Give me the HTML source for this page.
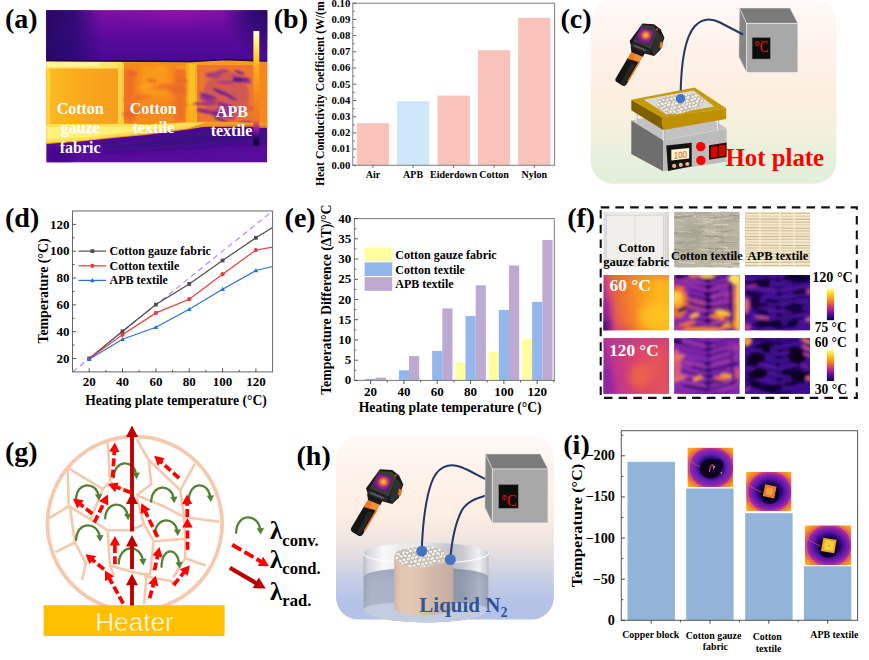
<!DOCTYPE html>
<html><head><meta charset="utf-8"><title>Figure</title>
<style>
html,body{margin:0;padding:0;background:#fff;}
body{width:869px;height:660px;overflow:hidden;font-family:"Liberation Serif",serif;}
svg{display:block;}
</style></head>
<body>
<svg width="869" height="660" viewBox="0 0 869 660">
<defs>
<filter id="b1" x="-20%" y="-20%" width="140%" height="140%"><feGaussianBlur stdDeviation="1"/></filter>
<filter id="b2" x="-20%" y="-20%" width="140%" height="140%"><feGaussianBlur stdDeviation="2"/></filter>
<filter id="b3" x="-30%" y="-30%" width="160%" height="160%"><feGaussianBlur stdDeviation="3.5"/></filter>
<filter id="b05" x="-20%" y="-20%" width="140%" height="140%"><feGaussianBlur stdDeviation="0.5"/></filter>
<filter id="b6" x="-50%" y="-50%" width="200%" height="200%"><feGaussianBlur stdDeviation="6"/></filter>
<clipPath id="cpa"><rect x="46.2" y="10.3" width="221.1" height="152.3"/></clipPath>
<linearGradient id="ga_bg" x1="0" y1="0" x2="0" y2="1"><stop offset="0" stop-color="#6a0c9e"/><stop offset="0.33" stop-color="#4b0a96"/><stop offset="0.8" stop-color="#520b98"/><stop offset="1" stop-color="#5a0c9c"/></linearGradient>
<linearGradient id="ga_cb" x1="0" y1="0" x2="0" y2="1"><stop offset="0" stop-color="#ffffd8"/><stop offset="0.1" stop-color="#fff27a"/><stop offset="0.22" stop-color="#ffd42a"/><stop offset="0.32" stop-color="#fbab1c"/><stop offset="0.55" stop-color="#f58a1e"/><stop offset="0.78" stop-color="#ee7424"/><stop offset="0.84" stop-color="#b02a86"/><stop offset="0.9" stop-color="#5a0c98"/><stop offset="0.95" stop-color="#1a0848"/><stop offset="1" stop-color="#0c062c"/></linearGradient>
<linearGradient id="ga_band" x1="0" y1="0" x2="1" y2="0"><stop offset="0" stop-color="#ffe260"/><stop offset="0.3" stop-color="#ffd22c"/><stop offset="0.5" stop-color="#f9a01c"/><stop offset="1" stop-color="#f68c1e"/></linearGradient>
<linearGradient id="ga_gz" x1="0" y1="0" x2="1" y2="0"><stop offset="0" stop-color="#fcba24"/><stop offset="0.5" stop-color="#f9a81a"/><stop offset="1" stop-color="#f79e1a"/></linearGradient>
<linearGradient id="ga_sky" x1="0" y1="0" x2="0" y2="1"><stop offset="0" stop-color="#8210a6"/><stop offset="0.3" stop-color="#6a0ca0"/><stop offset="0.6" stop-color="#570a9a"/><stop offset="1" stop-color="#490993"/></linearGradient>
<linearGradient id="ga_skl" x1="0" y1="0" x2="1" y2="0"><stop offset="0" stop-color="#280868" stop-opacity="1"/><stop offset="0.5" stop-color="#2c0a74" stop-opacity="0.92"/><stop offset="1" stop-color="#2c0a74" stop-opacity="0"/></linearGradient>
<radialGradient id="ga_skr" cx="1" cy="0" r="1"><stop offset="0" stop-color="#260868" stop-opacity="1"/><stop offset="0.45" stop-color="#2c0a74" stop-opacity="0.85"/><stop offset="1" stop-color="#2c0a74" stop-opacity="0"/></radialGradient>
<radialGradient id="ga_skm" cx="0.5" cy="0" r="0.5"><stop offset="0" stop-color="#9214aa" stop-opacity="0.9"/><stop offset="1" stop-color="#8210a6" stop-opacity="0"/></radialGradient>
<linearGradient id="gc_bg" x1="0" y1="0" x2="0" y2="1"><stop offset="0" stop-color="#fffaf8"/><stop offset="0.25" stop-color="#fef3ec"/><stop offset="0.5" stop-color="#fdeee0"/><stop offset="0.68" stop-color="#f6f0de"/><stop offset="0.85" stop-color="#e7f0dc"/><stop offset="1" stop-color="#e2efda"/></linearGradient>
<radialGradient id="gcam_scr" cx="0.55" cy="0.45" r="0.6"><stop offset="0" stop-color="#ffd040"/><stop offset="0.25" stop-color="#f07a28"/><stop offset="0.5" stop-color="#a02090"/><stop offset="1" stop-color="#3a1080"/></radialGradient>
<g id="cam">
<path d="M16.5,54.5 L28.5,58 L14.8,82.8 Q13.2,85.2 10.2,83.8 L4.6,80.3 Q2.4,78.8 3.6,76.2 Z" fill="#151515"/>
<path d="M20,60 L24.5,61.5 L12.5,83 L9,81.5 Z" fill="#333" opacity="0.55"/>
<path d="M27.3,59 L28.8,59.6 L17,80 L15.6,79.2 Z" fill="#e8771c"/>
<path d="M20.5,47.5 L32,52.5 L28.2,59.6 L15.8,56 Z" fill="#ee7a1e"/>
<path d="M24,50 L31,53 L28,58.8 L22,57 Z" fill="#f59440" opacity="0.8"/>
<path d="M19,43 L34,50 L32,54 L20,49.2 Z" fill="#1a1a1a"/>
<path d="M31.5,19.2 L43.6,20 L50.3,25.3 L54.3,34 L50,47 L43.6,53 L33.5,50.4 L20,44.4 L18,37.6 Z" fill="#1a1a1a"/>
<path d="M47,27.5 L53,34.5 L49.5,46.5 L43.6,52 L41,48 Z" fill="#303030"/>
<path d="M50.2,38 L53.2,39.6 L51.6,45.2 L49,44 Z" fill="#e8771c"/>
<path d="M30.8,20.8 L43,21.6 L47.4,27 L40.4,46 L21.6,38 Z" fill="#3a3a3a"/>
<path d="M29,23.6 L43.2,27.6 L38.3,41.2 L24.8,36.2 Z" fill="url(#gcam_scr)"/>
<path d="M20.2,39 L39.6,47.2 L38,51 L19.6,43.2 Z" fill="#2a2a2a"/>
<path d="M22.5,41 L35.5,46.5 L34.8,48.4 L22,43 Z" fill="#555"/>
<circle cx="46.8" cy="25.2" r="1" fill="#e8571c"/>
</g>
<g id="lp"><ellipse rx="1.9" ry="1.45" fill="#fff" stroke="#a59888" stroke-width="0.4"/><path d="M-0.9,0.3 q0.9,0.9 1.8,0" stroke="#c4b9ab" stroke-width="0.35" fill="none"/></g>
<clipPath id="clc"><path d="M656.3,102.8 Q659,97 670,95.6 L690,93.6 Q700.5,94 703.8,99.5 Q705,104.5 698,108 L681,113.2 Q668,115 660.5,110.6 Q655.6,107 656.3,102.8 Z"/></clipPath>
<clipPath id="cpd"><rect x="72.5" y="211.0" width="200.1" height="160.9"/></clipPath>
<clipPath id="cf00"><rect x="603.3" y="211.7" width="65.9" height="55.8"/></clipPath>
<clipPath id="cf01"><rect x="603.3" y="274.9" width="65.9" height="55.6"/></clipPath>
<clipPath id="cf02"><rect x="603.3" y="338.1" width="65.9" height="55.8"/></clipPath>
<clipPath id="cf10"><rect x="674.1" y="211.7" width="65.6" height="55.8"/></clipPath>
<clipPath id="cf11"><rect x="674.1" y="274.9" width="65.6" height="55.6"/></clipPath>
<clipPath id="cf12"><rect x="674.1" y="338.1" width="65.6" height="55.8"/></clipPath>
<clipPath id="cf20"><rect x="744.9" y="211.7" width="65.2" height="55.8"/></clipPath>
<clipPath id="cf21"><rect x="744.9" y="274.9" width="65.2" height="55.6"/></clipPath>
<clipPath id="cf22"><rect x="744.9" y="338.1" width="65.2" height="55.8"/></clipPath>
<linearGradient id="gf00" x1="0" y1="0" x2="1" y2="0"><stop offset="0" stop-color="#dcdad6"/><stop offset="0.08" stop-color="#ebe9e5"/><stop offset="0.5" stop-color="#efede9"/><stop offset="0.92" stop-color="#e6e4e0"/><stop offset="1" stop-color="#d4d2ce"/></linearGradient>
<linearGradient id="gf01" x1="0" y1="0.12" x2="1" y2="0"><stop offset="0" stop-color="#b8348c"/><stop offset="0.07" stop-color="#dc5060"/><stop offset="0.2" stop-color="#ec6a3a"/><stop offset="0.38" stop-color="#f48426"/><stop offset="0.6" stop-color="#f9a21c"/><stop offset="0.82" stop-color="#fdb81c"/><stop offset="1" stop-color="#fbb21c"/></linearGradient>
<linearGradient id="gf02" x1="0" y1="0.15" x2="1" y2="0"><stop offset="0" stop-color="#a02c9e"/><stop offset="0.1" stop-color="#c0348c"/><stop offset="0.4" stop-color="#d64270"/><stop offset="0.75" stop-color="#e25060"/><stop offset="1" stop-color="#dc4a66"/></linearGradient>
<filter id="bf" x="-10%" y="-10%" width="120%" height="120%"><feGaussianBlur stdDeviation="1.5"/></filter>
<linearGradient id="gf_cb" x1="0" y1="0" x2="0" y2="1"><stop offset="0" stop-color="#ffffb0"/><stop offset="0.12" stop-color="#ffe23a"/><stop offset="0.3" stop-color="#fda61c"/><stop offset="0.45" stop-color="#f2702c"/><stop offset="0.6" stop-color="#c8307c"/><stop offset="0.75" stop-color="#7a14a4"/><stop offset="0.9" stop-color="#2c0a7c"/><stop offset="1" stop-color="#120640"/></linearGradient>
<clipPath id="cpg"><circle cx="134.8" cy="523.6" r="87.3"/></clipPath>
<linearGradient id="gh_bg" x1="0" y1="0" x2="0" y2="1"><stop offset="0" stop-color="#fffaf8"/><stop offset="0.2" stop-color="#fef2ea"/><stop offset="0.42" stop-color="#fdeee2"/><stop offset="0.6" stop-color="#ece3e0"/><stop offset="0.78" stop-color="#c6cee4"/><stop offset="0.9" stop-color="#b5c3e8"/><stop offset="1" stop-color="#b3c1e8"/></linearGradient>
<linearGradient id="gh_gl" x1="0" y1="0" x2="1" y2="0"><stop offset="0" stop-color="#b9bbc2"/><stop offset="0.04" stop-color="#d6d7dc"/><stop offset="0.16" stop-color="#fbfbfb"/><stop offset="0.3" stop-color="#ececee"/><stop offset="0.5" stop-color="#e4e4e8"/><stop offset="0.72" stop-color="#bcbdc4"/><stop offset="0.8" stop-color="#c9cad0"/><stop offset="0.92" stop-color="#f2f2f4"/><stop offset="0.985" stop-color="#cfd0d6"/><stop offset="1" stop-color="#b4b6be"/></linearGradient>
<linearGradient id="gh_lq" x1="0" y1="0" x2="1" y2="0"><stop offset="0" stop-color="#9aa3b8"/><stop offset="0.05" stop-color="#a9b1c6"/><stop offset="0.3" stop-color="#a6afc4"/><stop offset="0.6" stop-color="#949cb2"/><stop offset="0.78" stop-color="#8c94a8"/><stop offset="0.93" stop-color="#a8b0c4"/><stop offset="1" stop-color="#98a0b4"/></linearGradient>
<linearGradient id="gh_lqv" x1="0" y1="0" x2="0" y2="1"><stop offset="0" stop-color="#8088a0" stop-opacity="0.28"/><stop offset="0.55" stop-color="#b8c4dc" stop-opacity="0"/><stop offset="1" stop-color="#c8d4ea" stop-opacity="0.55"/></linearGradient>
<linearGradient id="gh_blk" x1="0" y1="0" x2="1" y2="0"><stop offset="0" stop-color="#d2b5a3"/><stop offset="0.1" stop-color="#e2c5b3"/><stop offset="0.3" stop-color="#e4c8b6"/><stop offset="0.6" stop-color="#d2baab"/><stop offset="0.85" stop-color="#c9b3a5"/><stop offset="1" stop-color="#c4ad9f"/></linearGradient>
<clipPath id="clh"><path d="M394.4,556.5 Q395.5,550.5 404,548.8 L424,546.6 Q438,546.4 443.5,550.5 Q446.5,554 444,558.5 Q440,563.5 430,566 L418,567.6 Q406,567 399.5,563 Q394.5,560 394.4,556.5 Z"/></clipPath>
<clipPath id="ci0"><rect x="687.4" y="447.6" width="45.8" height="39.4"/></clipPath>
<radialGradient id="gi0" cx="0.52" cy="0.51" r="0.72"><stop offset="0" stop-color="#0a062c"/><stop offset="0.28" stop-color="#12083e"/><stop offset="0.38" stop-color="#3c0e8c"/><stop offset="0.48" stop-color="#6422ae"/><stop offset="0.58" stop-color="#7e26ae"/><stop offset="0.655" stop-color="#a8289e"/><stop offset="0.71" stop-color="#d04478"/><stop offset="0.77" stop-color="#f07a30"/><stop offset="0.88" stop-color="#fca01c"/><stop offset="1" stop-color="#ffb81c"/></radialGradient>
<clipPath id="ci1"><rect x="746.1" y="471.8" width="45.4" height="39.2"/></clipPath>
<radialGradient id="gi1" cx="0.52" cy="0.51" r="0.72"><stop offset="0" stop-color="#08052a"/><stop offset="0.26" stop-color="#10073a"/><stop offset="0.37" stop-color="#300a7e"/><stop offset="0.47" stop-color="#5c14a6"/><stop offset="0.57" stop-color="#7c1eac"/><stop offset="0.65" stop-color="#a8289e"/><stop offset="0.71" stop-color="#d04478"/><stop offset="0.77" stop-color="#f07a30"/><stop offset="0.88" stop-color="#fca01c"/><stop offset="1" stop-color="#ffb81c"/></radialGradient>
<clipPath id="ci2"><rect x="804.9" y="525.3" width="46.3" height="39.9"/></clipPath>
<radialGradient id="gi2" cx="0.52" cy="0.51" r="0.72"><stop offset="0" stop-color="#08052a"/><stop offset="0.26" stop-color="#10073a"/><stop offset="0.37" stop-color="#300a7e"/><stop offset="0.47" stop-color="#5c14a6"/><stop offset="0.57" stop-color="#7c1eac"/><stop offset="0.65" stop-color="#a8289e"/><stop offset="0.71" stop-color="#d04478"/><stop offset="0.77" stop-color="#f07a30"/><stop offset="0.88" stop-color="#fca01c"/><stop offset="1" stop-color="#ffb81c"/></radialGradient>
</defs>
<rect width="869" height="660" fill="#fff"/>
<g id="pa">
<text x="5.00" y="27.50" font-size="28" text-anchor="start" fill="#000" font-family="Liberation Serif, serif" font-weight="bold" >(a)</text>
<g clip-path="url(#cpa)">
<rect x="46.2" y="10.3" width="221.1" height="152.3" fill="url(#ga_bg)"/>
<rect x="46" y="10" width="222" height="51" fill="url(#ga_sky)"/>
<rect x="110" y="10" width="130" height="40" fill="url(#ga_skm)"/>
<rect x="46" y="10" width="56" height="51" fill="url(#ga_skl)"/>
<rect x="222" y="10" width="46" height="48" fill="url(#ga_skr)"/>
<path d="M46,61 L120,61.5 L190,62 L225,60 L267.5,61.5 L267.5,125.5 L252,125 L209,125.5 L188,129 L146,134.5 L119,137 L80,141 L46,143.5 Z" fill="#f58c1e"/>
<g filter="url(#b05)">
<path d="M46,61.5 L122,62 L122,69 L50,69.5 L46,72 Z" fill="#ffe66a"/>
<path d="M46,62 L100,62.3 L100,66 L46,67 Z" fill="#fff59c"/>
<path d="M122,62 L190,62.5 L225,60.5 L267.5,62 L267.5,66 L225,65 L190,66 L122,67 Z" fill="#f99c1c"/>
</g>
<g filter="url(#b05)">
<rect x="49.5" y="68.5" width="68.5" height="55" fill="url(#ga_gz)"/>
<rect x="46" y="68" width="4" height="60" fill="#ffd23a"/>
<rect x="118" y="63" width="6" height="62" fill="#ffd84a"/>
<rect x="124" y="63" width="63" height="62" fill="#f5891e"/>
<rect x="186" y="63" width="12" height="61" fill="#fbb01e"/>
<rect x="189" y="64" width="6" height="40" fill="#ffc42a" opacity="0.8"/>
<rect x="197" y="65" width="58" height="62" fill="#ec7432"/>
<rect x="255" y="62" width="13" height="66" fill="#f5871e"/>
</g>
<g filter="url(#b2)" opacity="0.7"><rect x="124" y="70" width="10" height="52" fill="#e8642c"/><rect x="175" y="68" width="10" height="54" fill="#e8642c"/><rect x="142" y="66" width="26" height="30" fill="#fba01c"/></g>
<g filter="url(#b1)" opacity="0.75">
<ellipse cx="140.6" cy="96.5" rx="6.2" ry="2.0" fill="#e9692c" transform="rotate(3 140.6 96.5)"/>
<ellipse cx="178.8" cy="92.3" rx="7.3" ry="1.5" fill="#e8602e" transform="rotate(1 178.8 92.3)"/>
<ellipse cx="158.3" cy="88.2" rx="9.2" ry="1.5" fill="#ec7226" transform="rotate(9 158.3 88.2)"/>
<ellipse cx="156.8" cy="107.5" rx="8.0" ry="1.3" fill="#e9692c" transform="rotate(-5 156.8 107.5)"/>
<ellipse cx="128.8" cy="114.5" rx="6.8" ry="2.2" fill="#e8602e" transform="rotate(5 128.8 114.5)"/>
<ellipse cx="179.5" cy="88.1" rx="8.8" ry="1.8" fill="#ec7226" transform="rotate(9 179.5 88.1)"/>
<ellipse cx="132.6" cy="73.6" rx="5.3" ry="2.6" fill="#e8602e" transform="rotate(7 132.6 73.6)"/>
<ellipse cx="175.7" cy="89.6" rx="9.0" ry="2.0" fill="#e8602e" transform="rotate(2 175.7 89.6)"/>
<ellipse cx="178.5" cy="104.2" rx="9.6" ry="2.4" fill="#ec7226" transform="rotate(5 178.5 104.2)"/>
<ellipse cx="145.6" cy="96.3" rx="7.4" ry="1.3" fill="#ec7226" transform="rotate(3 145.6 96.3)"/>
<ellipse cx="183.3" cy="81.0" rx="4.7" ry="1.9" fill="#e8602e" transform="rotate(-10 183.3 81.0)"/>
<ellipse cx="172.6" cy="89.0" rx="4.9" ry="1.6" fill="#e8602e" transform="rotate(9 172.6 89.0)"/>
<ellipse cx="129.5" cy="100.4" rx="4.3" ry="2.2" fill="#fba41e" transform="rotate(1 129.5 100.4)"/>
<ellipse cx="179.5" cy="81.6" rx="5.4" ry="1.3" fill="#e9692c" transform="rotate(-10 179.5 81.6)"/>
<ellipse cx="161.2" cy="67.8" rx="5.2" ry="1.8" fill="#fba41e" transform="rotate(-8 161.2 67.8)"/>
<ellipse cx="129.4" cy="114.6" rx="5.9" ry="2.5" fill="#e8602e" transform="rotate(-3 129.4 114.6)"/>
<ellipse cx="176.6" cy="87.6" rx="9.2" ry="2.2" fill="#e9692c" transform="rotate(3 176.6 87.6)"/>
<ellipse cx="180.6" cy="94.4" rx="6.6" ry="2.2" fill="#ec7226" transform="rotate(10 180.6 94.4)"/>
<ellipse cx="151.9" cy="80.5" rx="5.8" ry="1.7" fill="#e8602e" transform="rotate(12 151.9 80.5)"/>
<ellipse cx="144.9" cy="87.1" rx="7.5" ry="1.4" fill="#fba41e" transform="rotate(-1 144.9 87.1)"/>
<ellipse cx="165.7" cy="85.7" rx="8.2" ry="2.2" fill="#e9692c" transform="rotate(2 165.7 85.7)"/>
<ellipse cx="181.4" cy="67.2" rx="6.2" ry="2.1" fill="#fba41e" transform="rotate(2 181.4 67.2)"/>
<ellipse cx="145.2" cy="86.4" rx="5.9" ry="1.7" fill="#fba41e" transform="rotate(-5 145.2 86.4)"/>
<ellipse cx="148.5" cy="109.2" rx="4.2" ry="2.0" fill="#ec7226" transform="rotate(-5 148.5 109.2)"/>
<ellipse cx="139.7" cy="111.0" rx="5.4" ry="1.5" fill="#e8602e" transform="rotate(4 139.7 111.0)"/>
<ellipse cx="132.5" cy="99.6" rx="9.7" ry="2.1" fill="#ec7226" transform="rotate(-1 132.5 99.6)"/>
</g>
<g filter="url(#b1)" opacity="0.85">
<ellipse cx="226" cy="96" rx="23" ry="24" fill="#b23a78" opacity="0.55"/>
<ellipse cx="243.2" cy="79.1" rx="7.4" ry="1.9" fill="#9a2e94" transform="rotate(9 243.2 79.1)"/>
<ellipse cx="213.6" cy="76.5" rx="8.7" ry="1.3" fill="#9a2e94" transform="rotate(1 213.6 76.5)"/>
<ellipse cx="216.1" cy="113.6" rx="9.5" ry="2.1" fill="#6a169a" transform="rotate(13 216.1 113.6)"/>
<ellipse cx="222.8" cy="98.0" rx="10.9" ry="1.7" fill="#d85a48" transform="rotate(4 222.8 98.0)"/>
<ellipse cx="229.7" cy="71.9" rx="7.9" ry="1.3" fill="#d85a48" transform="rotate(23 229.7 71.9)"/>
<ellipse cx="244.4" cy="123.3" rx="8.0" ry="2.3" fill="#8a2a9e" transform="rotate(-4 244.4 123.3)"/>
<ellipse cx="224.5" cy="110.7" rx="10.2" ry="2.3" fill="#9a2e94" transform="rotate(5 224.5 110.7)"/>
<ellipse cx="213.7" cy="73.7" rx="9.1" ry="1.4" fill="#8a2a9e" transform="rotate(-4 213.7 73.7)"/>
<ellipse cx="245.5" cy="107.5" rx="11.5" ry="2.3" fill="#d85a48" transform="rotate(12 245.5 107.5)"/>
<ellipse cx="203.6" cy="110.2" rx="6.2" ry="1.4" fill="#7a1e9c" transform="rotate(11 203.6 110.2)"/>
<ellipse cx="222.4" cy="120.7" rx="9.3" ry="1.5" fill="#6a169a" transform="rotate(24 222.4 120.7)"/>
<ellipse cx="228.4" cy="113.8" rx="5.4" ry="1.3" fill="#7a1e9c" transform="rotate(11 228.4 113.8)"/>
<ellipse cx="241.4" cy="79.3" rx="10.5" ry="2.3" fill="#8a2a9e" transform="rotate(20 241.4 79.3)"/>
<ellipse cx="203.4" cy="103.9" rx="11.0" ry="1.1" fill="#6a169a" transform="rotate(2 203.4 103.9)"/>
<ellipse cx="232.1" cy="98.1" rx="5.4" ry="1.5" fill="#7a1e9c" transform="rotate(21 232.1 98.1)"/>
<ellipse cx="239.4" cy="72.5" rx="5.3" ry="1.7" fill="#7a1e9c" transform="rotate(21 239.4 72.5)"/>
<ellipse cx="207.0" cy="97.1" rx="7.2" ry="1.4" fill="#6a169a" transform="rotate(7 207.0 97.1)"/>
<ellipse cx="221.3" cy="86.4" rx="6.9" ry="2.4" fill="#d85a48" transform="rotate(-1 221.3 86.4)"/>
<ellipse cx="229.1" cy="108.7" rx="7.7" ry="1.1" fill="#8a2a9e" transform="rotate(-4 229.1 108.7)"/>
<ellipse cx="224.7" cy="105.1" rx="8.8" ry="1.9" fill="#7a1e9c" transform="rotate(14 224.7 105.1)"/>
<ellipse cx="223.3" cy="90.1" rx="8.5" ry="2.0" fill="#d85a48" transform="rotate(24 223.3 90.1)"/>
<ellipse cx="222.7" cy="71.0" rx="6.5" ry="1.4" fill="#9a2e94" transform="rotate(-3 222.7 71.0)"/>
<ellipse cx="223.0" cy="93.0" rx="11.2" ry="2.3" fill="#6a169a" transform="rotate(24 223.0 93.0)"/>
<ellipse cx="229.3" cy="117.0" rx="5.9" ry="2.0" fill="#9a2e94" transform="rotate(19 229.3 117.0)"/>
<ellipse cx="234.4" cy="109.6" rx="8.9" ry="1.1" fill="#9a2e94" transform="rotate(16 234.4 109.6)"/>
<ellipse cx="225.3" cy="82.7" rx="7.7" ry="1.7" fill="#9a2e94" transform="rotate(-2 225.3 82.7)"/>
<ellipse cx="244.4" cy="79.7" rx="5.2" ry="2.2" fill="#7a1e9c" transform="rotate(-4 244.4 79.7)"/>
<ellipse cx="208.4" cy="96.0" rx="9.9" ry="1.4" fill="#6a169a" transform="rotate(19 208.4 96.0)"/>
<ellipse cx="204.7" cy="111.4" rx="8.6" ry="2.0" fill="#7a1e9c" transform="rotate(12 204.7 111.4)"/>
<ellipse cx="207.7" cy="99.9" rx="8.9" ry="2.2" fill="#8a2a9e" transform="rotate(20 207.7 99.9)"/>
<ellipse cx="238" cy="80" rx="6" ry="2.5" fill="#4a0c8c"/>
</g>
<g filter="url(#b05)">
<path d="M46,123.5 L119,123.5 L150,124 L188,122 L215,121.5 L252,122.5 L267.5,123 L267.5,126 L252,125.5 L209,126 L188,129.5 L146,135 L119,137.5 L80,141.5 L46,144 Z" fill="#f9a01e"/>
<path d="M46,123.8 L119,123.8 L150,124.5 L188,122.5 L205,122.5 L188,128.6 L146,134 L119,136.6 L80,140.5 L46,143 Z" fill="#ffe052"/>
<path d="M46,127 L110,126.5 L150,127 L165,127 L120,133 L90,137 L46,139.5 Z" fill="#fff07a"/>
</g>
<path d="M46,60.6 L120,61 L190,61.6 L225,59.6 L267.5,61.2" fill="none" stroke="#1c0646" stroke-width="1.3"/>
<g filter="url(#b3)"><path d="M100,144 L150,138 L200,131 L268,130 L268,142 L150,150 L100,152 Z" fill="#36087e" opacity="0.85"/><ellipse cx="60" cy="156" rx="14" ry="8" fill="#3a0884" opacity="0.7"/></g>
<rect x="253.4" y="31" width="5.9" height="114.5" fill="url(#ga_cb)"/>
</g>
<text x="80.20" y="113.90" font-size="16" text-anchor="middle" fill="#fff" font-family="Liberation Serif, serif" font-weight="bold" >Cotton</text>
<text x="80.30" y="133.40" font-size="16" text-anchor="middle" fill="#fff" font-family="Liberation Serif, serif" font-weight="bold" >gauze</text>
<text x="80.10" y="152.60" font-size="16" text-anchor="middle" fill="#fff" font-family="Liberation Serif, serif" font-weight="bold" >fabric</text>
<text x="153.20" y="113.90" font-size="16" text-anchor="middle" fill="#fff" font-family="Liberation Serif, serif" font-weight="bold" >Cotton</text>
<text x="153.50" y="133.40" font-size="16" text-anchor="middle" fill="#fff" font-family="Liberation Serif, serif" font-weight="bold" >textile</text>
<text x="231.90" y="116.80" font-size="16" text-anchor="middle" fill="#fff" font-family="Liberation Serif, serif" font-weight="bold" >APB</text>
<text x="231.50" y="136.10" font-size="16" text-anchor="middle" fill="#fff" font-family="Liberation Serif, serif" font-weight="bold" >textile</text>
</g>
<g id="pb">
<text x="273.80" y="27.50" font-size="28" text-anchor="start" fill="#000" font-family="Liberation Serif, serif" font-weight="bold" >(b)</text>
<rect x="356.8" y="123.2" width="32.2" height="42.1" fill="#f8c3bb"/>
<rect x="397.0" y="101.3" width="32.2" height="64.0" fill="#cfe6fb"/>
<rect x="437.6" y="95.6" width="32.2" height="69.7" fill="#f8c3bb"/>
<rect x="478.0" y="50.2" width="32.2" height="115.1" fill="#f8c3bb"/>
<rect x="518.2" y="17.8" width="32.2" height="147.5" fill="#f8c3bb"/>
<rect x="352.8" y="3.2" width="201.8" height="162.1" fill="none" stroke="#7f7f7f" stroke-width="1"/>
<line x1="352.8" x2="356.3" y1="165.3" y2="165.3" stroke="#555" stroke-width="0.9"/>
<text x="350.30" y="168.70" font-size="10.7" text-anchor="end" fill="#000" font-family="Liberation Serif, serif" font-weight="bold" >0.00</text>
<line x1="352.8" x2="354.8" y1="157.2" y2="157.2" stroke="#555" stroke-width="0.8"/>
<line x1="352.8" x2="356.3" y1="149.1" y2="149.1" stroke="#555" stroke-width="0.9"/>
<text x="350.30" y="152.49" font-size="10.7" text-anchor="end" fill="#000" font-family="Liberation Serif, serif" font-weight="bold" >0.01</text>
<line x1="352.8" x2="354.8" y1="141.0" y2="141.0" stroke="#555" stroke-width="0.8"/>
<line x1="352.8" x2="356.3" y1="132.9" y2="132.9" stroke="#555" stroke-width="0.9"/>
<text x="350.30" y="136.28" font-size="10.7" text-anchor="end" fill="#000" font-family="Liberation Serif, serif" font-weight="bold" >0.02</text>
<line x1="352.8" x2="354.8" y1="124.8" y2="124.8" stroke="#555" stroke-width="0.8"/>
<line x1="352.8" x2="356.3" y1="116.7" y2="116.7" stroke="#555" stroke-width="0.9"/>
<text x="350.30" y="120.07" font-size="10.7" text-anchor="end" fill="#000" font-family="Liberation Serif, serif" font-weight="bold" >0.03</text>
<line x1="352.8" x2="354.8" y1="108.6" y2="108.6" stroke="#555" stroke-width="0.8"/>
<line x1="352.8" x2="356.3" y1="100.5" y2="100.5" stroke="#555" stroke-width="0.9"/>
<text x="350.30" y="103.86" font-size="10.7" text-anchor="end" fill="#000" font-family="Liberation Serif, serif" font-weight="bold" >0.04</text>
<line x1="352.8" x2="354.8" y1="92.4" y2="92.4" stroke="#555" stroke-width="0.8"/>
<line x1="352.8" x2="356.3" y1="84.2" y2="84.2" stroke="#555" stroke-width="0.9"/>
<text x="350.30" y="87.65" font-size="10.7" text-anchor="end" fill="#000" font-family="Liberation Serif, serif" font-weight="bold" >0.05</text>
<line x1="352.8" x2="354.8" y1="76.2" y2="76.2" stroke="#555" stroke-width="0.8"/>
<line x1="352.8" x2="356.3" y1="68.0" y2="68.0" stroke="#555" stroke-width="0.9"/>
<text x="350.30" y="71.44" font-size="10.7" text-anchor="end" fill="#000" font-family="Liberation Serif, serif" font-weight="bold" >0.06</text>
<line x1="352.8" x2="354.8" y1="59.9" y2="59.9" stroke="#555" stroke-width="0.8"/>
<line x1="352.8" x2="356.3" y1="51.8" y2="51.8" stroke="#555" stroke-width="0.9"/>
<text x="350.30" y="55.23" font-size="10.7" text-anchor="end" fill="#000" font-family="Liberation Serif, serif" font-weight="bold" >0.07</text>
<line x1="352.8" x2="354.8" y1="43.7" y2="43.7" stroke="#555" stroke-width="0.8"/>
<line x1="352.8" x2="356.3" y1="35.6" y2="35.6" stroke="#555" stroke-width="0.9"/>
<text x="350.30" y="39.02" font-size="10.7" text-anchor="end" fill="#000" font-family="Liberation Serif, serif" font-weight="bold" >0.08</text>
<line x1="352.8" x2="354.8" y1="27.5" y2="27.5" stroke="#555" stroke-width="0.8"/>
<line x1="352.8" x2="356.3" y1="19.4" y2="19.4" stroke="#555" stroke-width="0.9"/>
<text x="350.30" y="22.81" font-size="10.7" text-anchor="end" fill="#000" font-family="Liberation Serif, serif" font-weight="bold" >0.09</text>
<line x1="352.8" x2="354.8" y1="11.3" y2="11.3" stroke="#555" stroke-width="0.8"/>
<line x1="352.8" x2="356.3" y1="3.2" y2="3.2" stroke="#555" stroke-width="0.9"/>
<text x="350.30" y="6.60" font-size="10.7" text-anchor="end" fill="#000" font-family="Liberation Serif, serif" font-weight="bold" >0.10</text>
<line x1="372.9" x2="372.9" y1="165.3" y2="167.8" stroke="#555" stroke-width="0.9"/>
<text x="372.90" y="177.80" font-size="10" text-anchor="middle" fill="#000" font-family="Liberation Serif, serif" font-weight="bold" >Air</text>
<line x1="413.1" x2="413.1" y1="165.3" y2="167.8" stroke="#555" stroke-width="0.9"/>
<text x="413.10" y="177.80" font-size="10" text-anchor="middle" fill="#000" font-family="Liberation Serif, serif" font-weight="bold" >APB</text>
<line x1="453.7" x2="453.7" y1="165.3" y2="167.8" stroke="#555" stroke-width="0.9"/>
<text x="453.70" y="177.80" font-size="10" text-anchor="middle" fill="#000" font-family="Liberation Serif, serif" font-weight="bold" >Eiderdown</text>
<line x1="494.1" x2="494.1" y1="165.3" y2="167.8" stroke="#555" stroke-width="0.9"/>
<text x="494.10" y="177.80" font-size="10" text-anchor="middle" fill="#000" font-family="Liberation Serif, serif" font-weight="bold" >Cotton</text>
<line x1="534.3" x2="534.3" y1="165.3" y2="167.8" stroke="#555" stroke-width="0.9"/>
<text x="534.30" y="177.80" font-size="10" text-anchor="middle" fill="#000" font-family="Liberation Serif, serif" font-weight="bold" >Nylon</text>
<text transform="translate(324.00,186.00) rotate(-90)" font-size="11.7" text-anchor="start" fill="#000" font-family="Liberation Serif, serif" font-weight="bold" >Heat Conductivity Coefficient (W/(m·K))</text>
</g>
<g id="pc">
<rect x="590.7" y="-1" width="245.7" height="184.7" rx="22.5" ry="22.5" fill="url(#gc_bg)"/>
<use href="#cam" transform="translate(612.3,5.0) scale(0.96)"/>
<polygon points="739.4,8.1 789.9,8.1 797.9,23.3 746.6,23.3" fill="#7b7b7b" stroke="#e8e8e8" stroke-width="0.5"/><polygon points="739.4,8.1 746.6,23.3 746.6,72.5 738.8,56.8" fill="#858585" stroke="#e8e8e8" stroke-width="0.5"/><rect x="746.6" y="23.3" width="51.3" height="49.2" fill="#a8a8a8" stroke="#f2f2f2" stroke-width="0.6"/><rect x="752.1" y="37.6" width="18.2" height="21.4" fill="#0d0d0d" stroke="#777" stroke-width="0.5"/><text x="761.5" y="52.0" font-size="17" text-anchor="middle" fill="#ff1010" font-family="Liberation Serif, serif" textLength="14.0" lengthAdjust="spacingAndGlyphs">°C</text>
<path d="M680.6,97 C680.8,70 684,38 695,26 C703,17.5 712,18.5 720,22.5 L743,34.5" fill="none" stroke="#1f3864" stroke-width="2"/>
<polygon points="631.3,120.4 694,107.5 726.6,128.5 663.2,140.2" fill="#c2c2c2"/>
<polygon points="631.3,120.4 663.2,140.2 663.2,171.3 631.3,154" fill="#6e6e6e"/>
<polygon points="663.2,140.2 726.6,128.5 726.6,161.7 663.2,171.3" fill="#bcbcbc"/>
<line x1="663.2" y1="140.2" x2="726.6" y2="128.5" stroke="#d4d4d4" stroke-width="0.6"/>
<line x1="636.5" x2="636.5" y1="110" y2="123" stroke="#e6e6e6" stroke-width="1.6"/>
<line x1="637.4" x2="637.4" y1="110" y2="123" stroke="#9a9a9a" stroke-width="0.5"/>
<line x1="663.4" x2="663.4" y1="128" y2="140.5" stroke="#e6e6e6" stroke-width="1.6"/>
<line x1="664.3" x2="664.3" y1="128" y2="140.5" stroke="#9a9a9a" stroke-width="0.5"/>
<line x1="717.8" x2="717.8" y1="118" y2="130.5" stroke="#e6e6e6" stroke-width="1.6"/>
<line x1="718.6999999999999" x2="718.6999999999999" y1="118" y2="130.5" stroke="#9a9a9a" stroke-width="0.5"/>
<polygon points="631.3,99.7 661.8,117.2 663.2,129.9 631.3,110.2" fill="#7f6000"/>
<polygon points="661.8,117.2 726.2,108.3 726.2,118.9 663.2,129.9" fill="#bf9000"/>
<polygon points="631.3,99.7 694.6,87.6 726.2,108.3 661.8,117.2" fill="#c49a06"/>
<polygon points="643.6,99.6 693.6,90.6 714.2,106.4 666.6,114.4" fill="#d9d9d9"/>
<path d="M656.3,102.8 Q659,97 670,95.6 L690,93.6 Q700.5,94 703.8,99.5 Q705,104.5 698,108 L681,113.2 Q668,115 660.5,110.6 Q655.6,107 656.3,102.8 Z" fill="#cdc3b5" stroke="#d9d0c4" stroke-width="0.6"/><g clip-path="url(#clc)"><g transform="rotate(-14 680.5 104.0)"><use href="#lp" transform="translate(652.5,90.2) rotate(11) scale(0.99)"/><use href="#lp" transform="translate(656.5,90.4) rotate(25) scale(1.00)"/><use href="#lp" transform="translate(660.8,89.7) rotate(-40) scale(0.97)"/><use href="#lp" transform="translate(664.8,89.5) rotate(24) scale(0.94)"/><use href="#lp" transform="translate(668.2,89.5) rotate(40) scale(1.06)"/><use href="#lp" transform="translate(673.0,90.1) rotate(-37) scale(0.96)"/><use href="#lp" transform="translate(676.4,89.5) rotate(36) scale(0.97)"/><use href="#lp" transform="translate(679.8,90.4) rotate(-30) scale(1.10)"/><use href="#lp" transform="translate(684.1,90.1) rotate(-13) scale(1.00)"/><use href="#lp" transform="translate(687.7,89.4) rotate(29) scale(0.94)"/><use href="#lp" transform="translate(692.4,89.7) rotate(38) scale(1.09)"/><use href="#lp" transform="translate(696.3,90.3) rotate(6) scale(1.06)"/><use href="#lp" transform="translate(699.3,90.0) rotate(26) scale(0.93)"/><use href="#lp" transform="translate(704.3,90.5) rotate(-7) scale(0.97)"/><use href="#lp" transform="translate(707.5,89.9) rotate(40) scale(0.97)"/><use href="#lp" transform="translate(654.3,92.7) rotate(17) scale(1.12)"/><use href="#lp" transform="translate(658.8,93.2) rotate(4) scale(1.06)"/><use href="#lp" transform="translate(662.4,93.3) rotate(5) scale(1.03)"/><use href="#lp" transform="translate(666.2,92.8) rotate(-12) scale(1.10)"/><use href="#lp" transform="translate(670.3,93.3) rotate(-15) scale(0.90)"/><use href="#lp" transform="translate(673.8,93.6) rotate(22) scale(0.97)"/><use href="#lp" transform="translate(678.6,93.4) rotate(32) scale(1.11)"/><use href="#lp" transform="translate(682.1,93.8) rotate(37) scale(1.02)"/><use href="#lp" transform="translate(686.7,93.2) rotate(-10) scale(0.94)"/><use href="#lp" transform="translate(690.6,92.8) rotate(-34) scale(1.07)"/><use href="#lp" transform="translate(694.3,93.2) rotate(27) scale(0.89)"/><use href="#lp" transform="translate(697.5,92.9) rotate(-6) scale(0.92)"/><use href="#lp" transform="translate(701.1,93.0) rotate(32) scale(1.12)"/><use href="#lp" transform="translate(706.0,93.2) rotate(-20) scale(1.11)"/><use href="#lp" transform="translate(653.0,96.7) rotate(-38) scale(0.93)"/><use href="#lp" transform="translate(657.4,96.8) rotate(31) scale(1.02)"/><use href="#lp" transform="translate(660.7,96.5) rotate(28) scale(0.95)"/><use href="#lp" transform="translate(664.7,96.1) rotate(21) scale(0.88)"/><use href="#lp" transform="translate(668.9,96.9) rotate(-38) scale(1.02)"/><use href="#lp" transform="translate(672.7,96.8) rotate(7) scale(0.94)"/><use href="#lp" transform="translate(676.3,97.0) rotate(32) scale(0.91)"/><use href="#lp" transform="translate(679.7,95.9) rotate(-38) scale(0.99)"/><use href="#lp" transform="translate(683.7,96.8) rotate(12) scale(0.91)"/><use href="#lp" transform="translate(688.2,96.2) rotate(-0) scale(0.93)"/><use href="#lp" transform="translate(691.5,96.0) rotate(-10) scale(1.05)"/><use href="#lp" transform="translate(696.0,95.9) rotate(17) scale(1.09)"/><use href="#lp" transform="translate(700.2,96.7) rotate(-39) scale(0.99)"/><use href="#lp" transform="translate(703.1,96.7) rotate(-26) scale(1.05)"/><use href="#lp" transform="translate(707.3,96.6) rotate(-15) scale(0.89)"/><use href="#lp" transform="translate(654.8,99.4) rotate(32) scale(0.95)"/><use href="#lp" transform="translate(658.9,99.7) rotate(36) scale(0.90)"/><use href="#lp" transform="translate(662.9,99.6) rotate(19) scale(1.11)"/><use href="#lp" transform="translate(666.4,99.8) rotate(2) scale(1.01)"/><use href="#lp" transform="translate(669.9,100.0) rotate(38) scale(0.97)"/><use href="#lp" transform="translate(674.2,100.2) rotate(-31) scale(0.90)"/><use href="#lp" transform="translate(677.8,100.0) rotate(21) scale(0.99)"/><use href="#lp" transform="translate(682.4,99.0) rotate(12) scale(0.99)"/><use href="#lp" transform="translate(686.2,99.5) rotate(-8) scale(0.93)"/><use href="#lp" transform="translate(689.4,99.5) rotate(-20) scale(1.05)"/><use href="#lp" transform="translate(694.4,99.9) rotate(-4) scale(0.94)"/><use href="#lp" transform="translate(697.7,99.6) rotate(11) scale(1.11)"/><use href="#lp" transform="translate(701.2,99.6) rotate(-1) scale(1.05)"/><use href="#lp" transform="translate(706.2,99.9) rotate(10) scale(1.06)"/><use href="#lp" transform="translate(653.2,103.2) rotate(16) scale(1.04)"/><use href="#lp" transform="translate(656.5,103.3) rotate(-9) scale(1.03)"/><use href="#lp" transform="translate(661.3,103.4) rotate(39) scale(0.88)"/><use href="#lp" transform="translate(664.4,102.6) rotate(-9) scale(0.91)"/><use href="#lp" transform="translate(668.7,102.3) rotate(-16) scale(1.11)"/><use href="#lp" transform="translate(672.8,102.8) rotate(-31) scale(1.11)"/><use href="#lp" transform="translate(676.7,102.4) rotate(-13) scale(1.03)"/><use href="#lp" transform="translate(680.6,102.5) rotate(36) scale(0.96)"/><use href="#lp" transform="translate(683.9,103.2) rotate(-28) scale(1.04)"/><use href="#lp" transform="translate(687.7,102.9) rotate(-18) scale(0.97)"/><use href="#lp" transform="translate(692.6,102.8) rotate(-5) scale(1.03)"/><use href="#lp" transform="translate(695.6,102.4) rotate(-9) scale(0.95)"/><use href="#lp" transform="translate(699.4,103.4) rotate(-37) scale(1.07)"/><use href="#lp" transform="translate(704.3,103.0) rotate(-38) scale(1.00)"/><use href="#lp" transform="translate(707.0,102.9) rotate(16) scale(0.94)"/><use href="#lp" transform="translate(654.3,106.1) rotate(-32) scale(0.95)"/><use href="#lp" transform="translate(658.8,106.5) rotate(-10) scale(0.91)"/><use href="#lp" transform="translate(663.2,106.4) rotate(2) scale(0.89)"/><use href="#lp" transform="translate(666.2,105.9) rotate(4) scale(0.93)"/><use href="#lp" transform="translate(671.0,106.4) rotate(34) scale(1.09)"/><use href="#lp" transform="translate(673.8,106.1) rotate(-34) scale(1.10)"/><use href="#lp" transform="translate(678.7,106.3) rotate(-25) scale(0.89)"/><use href="#lp" transform="translate(682.7,106.1) rotate(10) scale(0.99)"/><use href="#lp" transform="translate(686.6,105.8) rotate(-18) scale(0.96)"/><use href="#lp" transform="translate(689.8,106.2) rotate(31) scale(0.90)"/><use href="#lp" transform="translate(693.3,106.0) rotate(14) scale(0.93)"/><use href="#lp" transform="translate(697.5,105.5) rotate(-37) scale(1.00)"/><use href="#lp" transform="translate(702.0,106.2) rotate(-27) scale(0.90)"/><use href="#lp" transform="translate(706.3,106.0) rotate(-7) scale(1.05)"/><use href="#lp" transform="translate(653.3,109.2) rotate(-34) scale(1.08)"/><use href="#lp" transform="translate(656.5,108.6) rotate(-12) scale(1.01)"/><use href="#lp" transform="translate(661.0,108.8) rotate(17) scale(1.00)"/><use href="#lp" transform="translate(664.2,109.6) rotate(25) scale(1.10)"/><use href="#lp" transform="translate(668.9,108.9) rotate(22) scale(1.10)"/><use href="#lp" transform="translate(672.5,109.7) rotate(38) scale(0.97)"/><use href="#lp" transform="translate(677.0,109.7) rotate(24) scale(0.88)"/><use href="#lp" transform="translate(680.1,109.3) rotate(9) scale(1.06)"/><use href="#lp" transform="translate(684.4,108.8) rotate(34) scale(1.01)"/><use href="#lp" transform="translate(688.6,108.8) rotate(40) scale(1.01)"/><use href="#lp" transform="translate(692.4,109.5) rotate(31) scale(0.97)"/><use href="#lp" transform="translate(695.3,109.1) rotate(-26) scale(1.01)"/><use href="#lp" transform="translate(700.2,109.0) rotate(-30) scale(0.89)"/><use href="#lp" transform="translate(703.6,109.3) rotate(-38) scale(1.04)"/><use href="#lp" transform="translate(707.2,108.7) rotate(34) scale(1.01)"/><use href="#lp" transform="translate(655.5,112.4) rotate(-30) scale(0.94)"/><use href="#lp" transform="translate(658.7,112.6) rotate(22) scale(1.06)"/><use href="#lp" transform="translate(663.0,112.1) rotate(-6) scale(0.97)"/><use href="#lp" transform="translate(666.6,112.1) rotate(3) scale(0.99)"/><use href="#lp" transform="translate(669.9,112.8) rotate(7) scale(1.07)"/><use href="#lp" transform="translate(674.8,112.7) rotate(39) scale(0.97)"/><use href="#lp" transform="translate(678.2,111.8) rotate(13) scale(1.02)"/><use href="#lp" transform="translate(682.4,113.0) rotate(-24) scale(0.93)"/><use href="#lp" transform="translate(686.5,112.8) rotate(-1) scale(0.89)"/><use href="#lp" transform="translate(689.9,112.8) rotate(-0) scale(0.99)"/><use href="#lp" transform="translate(693.8,112.6) rotate(8) scale(1.05)"/><use href="#lp" transform="translate(698.4,112.7) rotate(-10) scale(0.94)"/><use href="#lp" transform="translate(702.1,112.8) rotate(34) scale(0.93)"/><use href="#lp" transform="translate(706.1,112.9) rotate(-34) scale(0.95)"/><use href="#lp" transform="translate(653.2,115.2) rotate(26) scale(0.94)"/><use href="#lp" transform="translate(657.2,115.4) rotate(-23) scale(0.93)"/><use href="#lp" transform="translate(660.8,115.9) rotate(-23) scale(1.04)"/><use href="#lp" transform="translate(664.5,115.8) rotate(-11) scale(0.93)"/><use href="#lp" transform="translate(668.1,115.1) rotate(16) scale(0.98)"/><use href="#lp" transform="translate(672.0,116.1) rotate(12) scale(0.89)"/><use href="#lp" transform="translate(676.7,115.7) rotate(-4) scale(1.00)"/><use href="#lp" transform="translate(680.9,115.4) rotate(11) scale(1.03)"/><use href="#lp" transform="translate(684.0,115.4) rotate(20) scale(1.03)"/><use href="#lp" transform="translate(688.0,115.6) rotate(-22) scale(1.07)"/><use href="#lp" transform="translate(691.3,115.8) rotate(-4) scale(0.93)"/><use href="#lp" transform="translate(696.0,115.7) rotate(-33) scale(1.00)"/><use href="#lp" transform="translate(699.3,116.0) rotate(-14) scale(0.96)"/><use href="#lp" transform="translate(703.3,115.1) rotate(-25) scale(0.92)"/><use href="#lp" transform="translate(707.8,116.0) rotate(-22) scale(0.91)"/></g></g>
<circle cx="680.5" cy="98.8" r="4.7" fill="#4472c4"/>
<polygon points="666.3,145.5 691.7,142.7 691.7,166.2 668,170.9" fill="#121212"/>
<polygon points="671.3,149.8 689.2,147.9 689.2,158.5 671.3,160.6" fill="#fff2cc"/>
<text transform="translate(680.3,158.1) skewY(-6)" font-size="9" text-anchor="middle" fill="#c55a11" font-family="Liberation Sans, sans-serif" textLength="13" lengthAdjust="spacingAndGlyphs">100</text>
<circle cx="674.2" cy="165.9" r="2.1" fill="#f4b183"/>
<circle cx="680.8" cy="164.9" r="2.1" fill="#f4b183"/>
<circle cx="687.3" cy="164.0" r="2.1" fill="#f4b183"/>
<circle cx="700.7" cy="146.6" r="4.7" fill="#ff0000"/><circle cx="700.9" cy="160.4" r="4.7" fill="#ff0000"/>
<polygon points="709,145.3 726.6,142.6 726.6,157 709,159.7" fill="#3a0d0d"/>
<polygon points="711,147 717.4,146 717.4,157 711,158" fill="#e00000"/><polygon points="719,145.8 725.4,144.8 725.4,155.6 719,156.6" fill="#e00000"/>
<text x="725.50" y="166.20" font-size="25" text-anchor="start" fill="#ff0000" font-family="Liberation Serif, serif" font-weight="bold" textLength="98.6" lengthAdjust="spacingAndGlyphs">Hot plate</text>
<text x="560.50" y="27.50" font-size="28" text-anchor="start" fill="#000" font-family="Liberation Serif, serif" font-weight="bold" >(c)</text>
</g>
<g id="pd">
<text x="5.00" y="227.00" font-size="28" text-anchor="start" fill="#000" font-family="Liberation Serif, serif" font-weight="bold" >(d)</text>
<g clip-path="url(#cpd)">
<line x1="72.5" y1="371.9" x2="272.6" y2="211.0" stroke="#b57bff" stroke-width="1.1" stroke-dasharray="5.5 4"/>
<polyline points="89.2,358.5 122.5,331.3 155.9,304.6 189.2,283.9 222.6,260.5 255.9,237.8 272.6,227.4" fill="none" stroke="#4d4d4d" stroke-width="1.2"/>
<rect x="87.3" y="356.6" width="3.8" height="3.8" fill="#4d4d4d"/>
<rect x="120.6" y="329.4" width="3.8" height="3.8" fill="#4d4d4d"/>
<rect x="154.0" y="302.7" width="3.8" height="3.8" fill="#4d4d4d"/>
<rect x="187.3" y="282.0" width="3.8" height="3.8" fill="#4d4d4d"/>
<rect x="220.7" y="258.6" width="3.8" height="3.8" fill="#4d4d4d"/>
<rect x="254.0" y="235.9" width="3.8" height="3.8" fill="#4d4d4d"/>
<polyline points="89.2,358.5 122.5,334.8 155.9,312.9 189.2,299.2 222.6,274.2 255.9,250.0 272.6,247.1" fill="none" stroke="#ee3b3b" stroke-width="1.2"/>
<circle cx="89.2" cy="358.5" r="2.1" fill="#ee3b3b"/>
<circle cx="122.5" cy="334.8" r="2.1" fill="#ee3b3b"/>
<circle cx="155.9" cy="312.9" r="2.1" fill="#ee3b3b"/>
<circle cx="189.2" cy="299.2" r="2.1" fill="#ee3b3b"/>
<circle cx="222.6" cy="274.2" r="2.1" fill="#ee3b3b"/>
<circle cx="255.9" cy="250.0" r="2.1" fill="#ee3b3b"/>
<polyline points="89.2,359.2 122.5,339.3 155.9,327.3 189.2,309.3 222.6,289.2 255.9,270.5 272.6,266.5" fill="none" stroke="#2672e0" stroke-width="1.2"/>
<polygon points="89.2,356.8 86.8,361.0 91.6,361.0" fill="#2672e0"/>
<polygon points="122.5,336.9 120.1,341.1 124.9,341.1" fill="#2672e0"/>
<polygon points="155.9,324.9 153.5,329.1 158.3,329.1" fill="#2672e0"/>
<polygon points="189.2,306.9 186.8,311.1 191.6,311.1" fill="#2672e0"/>
<polygon points="222.6,286.8 220.2,291.0 225.0,291.0" fill="#2672e0"/>
<polygon points="255.9,268.1 253.5,272.3 258.3,272.3" fill="#2672e0"/>
</g>
<rect x="72.5" y="211.0" width="200.1" height="160.9" fill="none" stroke="#666" stroke-width="1"/>
<line x1="89.2" x2="89.2" y1="371.9" y2="368.29999999999995" stroke="#444" stroke-width="0.9"/>
<line x1="72.5" x2="76.1" y1="358.5" y2="358.5" stroke="#444" stroke-width="0.9"/>
<text x="89.17" y="386.00" font-size="13" text-anchor="middle" fill="#000" font-family="Liberation Serif, serif" font-weight="bold" >20</text>
<text x="69.60" y="362.59" font-size="13" text-anchor="end" fill="#000" font-family="Liberation Serif, serif" font-weight="bold" >20</text>
<line x1="105.8" x2="105.8" y1="371.9" y2="369.9" stroke="#444" stroke-width="0.9"/>
<line x1="72.5" x2="74.5" y1="345.1" y2="345.1" stroke="#444" stroke-width="0.9"/>
<line x1="122.5" x2="122.5" y1="371.9" y2="368.29999999999995" stroke="#444" stroke-width="0.9"/>
<line x1="72.5" x2="76.1" y1="331.7" y2="331.7" stroke="#444" stroke-width="0.9"/>
<text x="122.53" y="386.00" font-size="13" text-anchor="middle" fill="#000" font-family="Liberation Serif, serif" font-weight="bold" >40</text>
<text x="69.60" y="335.77" font-size="13" text-anchor="end" fill="#000" font-family="Liberation Serif, serif" font-weight="bold" >40</text>
<line x1="139.2" x2="139.2" y1="371.9" y2="369.9" stroke="#444" stroke-width="0.9"/>
<line x1="72.5" x2="74.5" y1="318.3" y2="318.3" stroke="#444" stroke-width="0.9"/>
<line x1="155.9" x2="155.9" y1="371.9" y2="368.29999999999995" stroke="#444" stroke-width="0.9"/>
<line x1="72.5" x2="76.1" y1="304.9" y2="304.9" stroke="#444" stroke-width="0.9"/>
<text x="155.88" y="386.00" font-size="13" text-anchor="middle" fill="#000" font-family="Liberation Serif, serif" font-weight="bold" >60</text>
<text x="69.60" y="308.96" font-size="13" text-anchor="end" fill="#000" font-family="Liberation Serif, serif" font-weight="bold" >60</text>
<line x1="172.6" x2="172.6" y1="371.9" y2="369.9" stroke="#444" stroke-width="0.9"/>
<line x1="72.5" x2="74.5" y1="291.4" y2="291.4" stroke="#444" stroke-width="0.9"/>
<line x1="189.2" x2="189.2" y1="371.9" y2="368.29999999999995" stroke="#444" stroke-width="0.9"/>
<line x1="72.5" x2="76.1" y1="278.0" y2="278.0" stroke="#444" stroke-width="0.9"/>
<text x="189.23" y="386.00" font-size="13" text-anchor="middle" fill="#000" font-family="Liberation Serif, serif" font-weight="bold" >80</text>
<text x="69.60" y="282.14" font-size="13" text-anchor="end" fill="#000" font-family="Liberation Serif, serif" font-weight="bold" >80</text>
<line x1="205.9" x2="205.9" y1="371.9" y2="369.9" stroke="#444" stroke-width="0.9"/>
<line x1="72.5" x2="74.5" y1="264.6" y2="264.6" stroke="#444" stroke-width="0.9"/>
<line x1="222.6" x2="222.6" y1="371.9" y2="368.29999999999995" stroke="#444" stroke-width="0.9"/>
<line x1="72.5" x2="76.1" y1="251.2" y2="251.2" stroke="#444" stroke-width="0.9"/>
<text x="222.58" y="386.00" font-size="13" text-anchor="middle" fill="#000" font-family="Liberation Serif, serif" font-weight="bold" >100</text>
<text x="69.60" y="255.32" font-size="13" text-anchor="end" fill="#000" font-family="Liberation Serif, serif" font-weight="bold" >100</text>
<line x1="239.3" x2="239.3" y1="371.9" y2="369.9" stroke="#444" stroke-width="0.9"/>
<line x1="72.5" x2="74.5" y1="237.8" y2="237.8" stroke="#444" stroke-width="0.9"/>
<line x1="255.9" x2="255.9" y1="371.9" y2="368.29999999999995" stroke="#444" stroke-width="0.9"/>
<line x1="72.5" x2="76.1" y1="224.4" y2="224.4" stroke="#444" stroke-width="0.9"/>
<text x="255.93" y="386.00" font-size="13" text-anchor="middle" fill="#000" font-family="Liberation Serif, serif" font-weight="bold" >120</text>
<text x="69.60" y="228.51" font-size="13" text-anchor="end" fill="#000" font-family="Liberation Serif, serif" font-weight="bold" >120</text>
<line x1="78.5" x2="106.2" y1="251.1" y2="251.1" stroke="#4d4d4d" stroke-width="1.2"/>
<rect x="90.5" y="249.2" width="3.8" height="3.8" fill="#4d4d4d"/>
<text x="109.60" y="255.10" font-size="12" text-anchor="start" fill="#000" font-family="Liberation Serif, serif" font-weight="bold" >Cotton gauze fabric</text>
<line x1="78.5" x2="106.2" y1="265.8" y2="265.8" stroke="#ee3b3b" stroke-width="1.2"/>
<circle cx="92.4" cy="265.8" r="2.1" fill="#ee3b3b"/>
<text x="109.60" y="269.80" font-size="12" text-anchor="start" fill="#000" font-family="Liberation Serif, serif" font-weight="bold" >Cotton textile</text>
<line x1="78.5" x2="106.2" y1="280.4" y2="280.4" stroke="#2672e0" stroke-width="1.2"/>
<polygon points="92.4,278.0 90.0,282.2 94.8,282.2" fill="#2672e0"/>
<text x="109.60" y="284.40" font-size="12" text-anchor="start" fill="#000" font-family="Liberation Serif, serif" font-weight="bold" >APB textile</text>
<text x="85.20" y="404.60" font-size="14" text-anchor="start" fill="#000" font-family="Liberation Serif, serif" font-weight="bold" textLength="181.6" lengthAdjust="spacingAndGlyphs">Heating plate temperature (°C)</text>
<text transform="translate(48.00,291.00) rotate(-90)" font-size="14" text-anchor="middle" fill="#000" font-family="Liberation Serif, serif" font-weight="bold" textLength="105" lengthAdjust="spacingAndGlyphs">Temperature (°C)</text>
</g>
<g id="pe">
<text x="284.60" y="227.00" font-size="28" text-anchor="start" fill="#000" font-family="Liberation Serif, serif" font-weight="bold" >(e)</text>
<rect x="365.6" y="378.8" width="10.2" height="1.6" fill="#93b7ec"/>
<rect x="375.7" y="377.6" width="10.2" height="2.8" fill="#bdaad3"/>
<rect x="398.9" y="370.3" width="10.2" height="10.1" fill="#93b7ec"/>
<rect x="409.0" y="356.1" width="10.2" height="24.3" fill="#bdaad3"/>
<rect x="432.2" y="350.9" width="10.2" height="29.5" fill="#93b7ec"/>
<rect x="442.3" y="308.4" width="10.2" height="72.0" fill="#bdaad3"/>
<rect x="455.4" y="362.2" width="10.2" height="18.2" fill="#fffe9f"/>
<rect x="465.5" y="316.1" width="10.2" height="64.3" fill="#93b7ec"/>
<rect x="475.7" y="285.3" width="10.2" height="95.1" fill="#bdaad3"/>
<rect x="488.7" y="351.7" width="10.2" height="28.7" fill="#fffe9f"/>
<rect x="498.8" y="310.0" width="10.2" height="70.4" fill="#93b7ec"/>
<rect x="509.0" y="265.5" width="10.2" height="114.9" fill="#bdaad3"/>
<rect x="522.0" y="338.7" width="10.2" height="41.7" fill="#fffe9f"/>
<rect x="532.1" y="301.9" width="10.2" height="78.5" fill="#93b7ec"/>
<rect x="542.3" y="240.0" width="10.2" height="140.4" fill="#bdaad3"/>
<rect x="354.4" y="218.6" width="199.9" height="161.8" fill="none" stroke="#7a7a7a" stroke-width="1"/>
<line x1="354.4" x2="358.0" y1="380.4" y2="380.4" stroke="#444" stroke-width="0.9"/>
<text x="351.30" y="384.40" font-size="13" text-anchor="end" fill="#000" font-family="Liberation Serif, serif" font-weight="bold" >0</text>
<line x1="354.4" x2="356.4" y1="370.3" y2="370.3" stroke="#444" stroke-width="0.8"/>
<line x1="354.4" x2="358.0" y1="360.2" y2="360.2" stroke="#444" stroke-width="0.9"/>
<text x="351.30" y="364.17" font-size="13" text-anchor="end" fill="#000" font-family="Liberation Serif, serif" font-weight="bold" >5</text>
<line x1="354.4" x2="356.4" y1="350.1" y2="350.1" stroke="#444" stroke-width="0.8"/>
<line x1="354.4" x2="358.0" y1="339.9" y2="339.9" stroke="#444" stroke-width="0.9"/>
<text x="351.30" y="343.95" font-size="13" text-anchor="end" fill="#000" font-family="Liberation Serif, serif" font-weight="bold" >10</text>
<line x1="354.4" x2="356.4" y1="329.8" y2="329.8" stroke="#444" stroke-width="0.8"/>
<line x1="354.4" x2="358.0" y1="319.7" y2="319.7" stroke="#444" stroke-width="0.9"/>
<text x="351.30" y="323.72" font-size="13" text-anchor="end" fill="#000" font-family="Liberation Serif, serif" font-weight="bold" >15</text>
<line x1="354.4" x2="356.4" y1="309.6" y2="309.6" stroke="#444" stroke-width="0.8"/>
<line x1="354.4" x2="358.0" y1="299.5" y2="299.5" stroke="#444" stroke-width="0.9"/>
<text x="351.30" y="303.50" font-size="13" text-anchor="end" fill="#000" font-family="Liberation Serif, serif" font-weight="bold" >20</text>
<line x1="354.4" x2="356.4" y1="289.4" y2="289.4" stroke="#444" stroke-width="0.8"/>
<line x1="354.4" x2="358.0" y1="279.3" y2="279.3" stroke="#444" stroke-width="0.9"/>
<text x="351.30" y="283.27" font-size="13" text-anchor="end" fill="#000" font-family="Liberation Serif, serif" font-weight="bold" >25</text>
<line x1="354.4" x2="356.4" y1="269.2" y2="269.2" stroke="#444" stroke-width="0.8"/>
<line x1="354.4" x2="358.0" y1="259.0" y2="259.0" stroke="#444" stroke-width="0.9"/>
<text x="351.30" y="263.05" font-size="13" text-anchor="end" fill="#000" font-family="Liberation Serif, serif" font-weight="bold" >30</text>
<line x1="354.4" x2="356.4" y1="248.9" y2="248.9" stroke="#444" stroke-width="0.8"/>
<line x1="354.4" x2="358.0" y1="238.8" y2="238.8" stroke="#444" stroke-width="0.9"/>
<text x="351.30" y="242.82" font-size="13" text-anchor="end" fill="#000" font-family="Liberation Serif, serif" font-weight="bold" >35</text>
<line x1="354.4" x2="356.4" y1="228.7" y2="228.7" stroke="#444" stroke-width="0.8"/>
<line x1="354.4" x2="358.0" y1="218.6" y2="218.6" stroke="#444" stroke-width="0.9"/>
<text x="351.30" y="222.60" font-size="13" text-anchor="end" fill="#000" font-family="Liberation Serif, serif" font-weight="bold" >40</text>
<line x1="370.6" x2="370.6" y1="380.4" y2="384.0" stroke="#444" stroke-width="0.9"/>
<text x="370.60" y="395.60" font-size="13" text-anchor="middle" fill="#000" font-family="Liberation Serif, serif" font-weight="bold" >20</text>
<line x1="387.3" x2="387.3" y1="380.4" y2="382.4" stroke="#444" stroke-width="0.9"/>
<line x1="403.9" x2="403.9" y1="380.4" y2="384.0" stroke="#444" stroke-width="0.9"/>
<text x="403.92" y="395.60" font-size="13" text-anchor="middle" fill="#000" font-family="Liberation Serif, serif" font-weight="bold" >40</text>
<line x1="420.6" x2="420.6" y1="380.4" y2="382.4" stroke="#444" stroke-width="0.9"/>
<line x1="437.2" x2="437.2" y1="380.4" y2="384.0" stroke="#444" stroke-width="0.9"/>
<text x="437.24" y="395.60" font-size="13" text-anchor="middle" fill="#000" font-family="Liberation Serif, serif" font-weight="bold" >60</text>
<line x1="453.9" x2="453.9" y1="380.4" y2="382.4" stroke="#444" stroke-width="0.9"/>
<line x1="470.6" x2="470.6" y1="380.4" y2="384.0" stroke="#444" stroke-width="0.9"/>
<text x="470.56" y="395.60" font-size="13" text-anchor="middle" fill="#000" font-family="Liberation Serif, serif" font-weight="bold" >80</text>
<line x1="487.2" x2="487.2" y1="380.4" y2="382.4" stroke="#444" stroke-width="0.9"/>
<line x1="503.9" x2="503.9" y1="380.4" y2="384.0" stroke="#444" stroke-width="0.9"/>
<text x="503.88" y="395.60" font-size="13" text-anchor="middle" fill="#000" font-family="Liberation Serif, serif" font-weight="bold" >100</text>
<line x1="520.5" x2="520.5" y1="380.4" y2="382.4" stroke="#444" stroke-width="0.9"/>
<line x1="537.2" x2="537.2" y1="380.4" y2="384.0" stroke="#444" stroke-width="0.9"/>
<text x="537.20" y="395.60" font-size="13" text-anchor="middle" fill="#000" font-family="Liberation Serif, serif" font-weight="bold" >120</text>
<line x1="553.9" x2="553.9" y1="380.4" y2="382.4" stroke="#444" stroke-width="0.9"/>
<rect x="364.6" y="247.6" width="27.6" height="13.6" fill="#fffe9f"/>
<text x="395.30" y="258.90" font-size="12" text-anchor="start" fill="#000" font-family="Liberation Serif, serif" font-weight="bold" >Cotton gauze fabric</text>
<rect x="364.6" y="262.4" width="27.6" height="13.6" fill="#93b7ec"/>
<text x="395.30" y="273.50" font-size="12" text-anchor="start" fill="#000" font-family="Liberation Serif, serif" font-weight="bold" >Cotton textile</text>
<rect x="364.6" y="277.2" width="27.6" height="13.6" fill="#bdaad3"/>
<text x="395.30" y="288.20" font-size="12" text-anchor="start" fill="#000" font-family="Liberation Serif, serif" font-weight="bold" >APB textile</text>
<text x="358.70" y="412.00" font-size="14" text-anchor="start" fill="#000" font-family="Liberation Serif, serif" font-weight="bold" textLength="183" lengthAdjust="spacingAndGlyphs">Heating plate temperature  (°C)</text>
<text transform="translate(331.20,394.80) rotate(-90)" font-size="14" text-anchor="start" fill="#000" font-family="Liberation Serif, serif" font-weight="bold" textLength="190.3" lengthAdjust="spacingAndGlyphs">Temperature Difference (ΔT)/°C</text>
</g>
<g id="pf">
<text x="567.20" y="227.00" font-size="28" text-anchor="start" fill="#000" font-family="Liberation Serif, serif" font-weight="bold" >(f)</text>
<rect x="600.7" y="207.4" width="256.1" height="190.5" fill="none" stroke="#111" stroke-width="2.1" stroke-dasharray="8.6 6.1"/>
<g clip-path="url(#cf00)"><rect x="603.3" y="211.7" width="65.9" height="55.8" fill="url(#gf00)"/>
<rect x="606.3" y="215.2" width="58.9" height="55.8" fill="#f1efeb" stroke="#d2d0cb" stroke-width="0.8"/>
<line x1="634.8" x2="634.8" y1="215.7" y2="267.5" stroke="#dad8d3" stroke-width="0.8"/>
<line x1="663.7" x2="663.7" y1="215.7" y2="267.5" stroke="#c9c7c2" stroke-width="0.8"/>
</g>
<g clip-path="url(#cf10)"><rect x="674.1" y="211.7" width="65.6" height="55.8" fill="#b9b3a2"/>
<g filter="url(#b05)">
<path d="M705.3,236.9 q10.4,-0.2 20.8,1.1" stroke="#989282" stroke-width="0.6" fill="none"/>
<path d="M699.8,256.6 q7.9,-1.6 15.8,-0.6" stroke="#a39d8c" stroke-width="0.6" fill="none"/>
<path d="M713.9,256.9 q3.3,1.9 6.7,0.5" stroke="#989282" stroke-width="0.9" fill="none"/>
<path d="M670.1,220.5 q7.2,-1.9 14.5,1.1" stroke="#cfc9b9" stroke-width="0.9" fill="none"/>
<path d="M690.2,255.1 q7.7,0.1 15.5,0.4" stroke="#a39d8c" stroke-width="0.8" fill="none"/>
<path d="M698.6,248.7 q5.2,2.0 10.5,1.0" stroke="#d6d0c0" stroke-width="0.9" fill="none"/>
<path d="M683.9,229.3 q5.3,0.3 10.6,-1.2" stroke="#cfc9b9" stroke-width="0.6" fill="none"/>
<path d="M673.4,227.9 q3.1,-2.0 6.3,-0.9" stroke="#aea897" stroke-width="1.0" fill="none"/>
<path d="M732.4,237.9 q6.2,0.3 12.4,-0.9" stroke="#cfc9b9" stroke-width="0.9" fill="none"/>
<path d="M689.2,230.5 q3.1,1.0 6.2,-1.1" stroke="#989282" stroke-width="0.6" fill="none"/>
<path d="M673.0,217.3 q9.4,0.7 18.8,-0.9" stroke="#a39d8c" stroke-width="0.8" fill="none"/>
<path d="M718.8,266.7 q6.4,-1.5 12.7,-0.2" stroke="#989282" stroke-width="0.6" fill="none"/>
<path d="M731.8,226.8 q9.4,2.0 18.9,-1.4" stroke="#c4beae" stroke-width="0.6" fill="none"/>
<path d="M708.0,267.3 q7.6,2.0 15.2,-0.9" stroke="#cfc9b9" stroke-width="0.7" fill="none"/>
<path d="M690.4,254.8 q5.4,-1.7 10.7,-0.9" stroke="#cfc9b9" stroke-width="0.9" fill="none"/>
<path d="M692.9,212.6 q8.0,1.8 16.0,-0.0" stroke="#a39d8c" stroke-width="0.8" fill="none"/>
<path d="M680.9,260.1 q4.2,1.3 8.5,-0.8" stroke="#a39d8c" stroke-width="0.6" fill="none"/>
<path d="M729.9,253.0 q4.6,1.5 9.1,0.3" stroke="#989282" stroke-width="0.8" fill="none"/>
<path d="M671.6,217.5 q10.7,1.0 21.4,-0.3" stroke="#a39d8c" stroke-width="0.8" fill="none"/>
<path d="M700.8,262.2 q7.2,1.9 14.3,-1.1" stroke="#aea897" stroke-width="0.8" fill="none"/>
<path d="M708.9,248.2 q3.6,1.7 7.2,-0.9" stroke="#a39d8c" stroke-width="0.5" fill="none"/>
<path d="M697.9,226.7 q3.5,-0.9 7.0,0.1" stroke="#a39d8c" stroke-width="1.1" fill="none"/>
<path d="M678.0,216.8 q6.6,0.6 13.2,0.6" stroke="#c4beae" stroke-width="0.9" fill="none"/>
<path d="M671.4,219.5 q3.1,0.8 6.3,1.4" stroke="#c4beae" stroke-width="0.5" fill="none"/>
<path d="M700.3,247.2 q8.8,-1.5 17.7,-1.3" stroke="#c4beae" stroke-width="0.8" fill="none"/>
<path d="M672.0,232.2 q10.5,0.8 21.0,0.9" stroke="#aea897" stroke-width="1.0" fill="none"/>
<path d="M713.4,231.3 q10.2,1.8 20.4,-1.4" stroke="#989282" stroke-width="0.8" fill="none"/>
<path d="M711.9,212.5 q6.0,0.4 12.1,-1.3" stroke="#cfc9b9" stroke-width="0.9" fill="none"/>
<path d="M725.9,267.1 q8.8,1.7 17.7,0.6" stroke="#989282" stroke-width="0.8" fill="none"/>
<path d="M704.1,237.5 q7.1,-1.9 14.3,0.3" stroke="#d6d0c0" stroke-width="0.8" fill="none"/>
<path d="M714.2,224.5 q7.0,0.6 14.0,-0.0" stroke="#d6d0c0" stroke-width="1.0" fill="none"/>
<path d="M678.4,232.2 q7.9,-1.3 15.8,1.2" stroke="#d6d0c0" stroke-width="0.9" fill="none"/>
<path d="M726.7,236.4 q5.6,-1.0 11.2,0.4" stroke="#aea897" stroke-width="1.0" fill="none"/>
<path d="M682.0,253.8 q4.7,0.3 9.4,-0.6" stroke="#a39d8c" stroke-width="0.6" fill="none"/>
<path d="M723.2,239.4 q9.8,-1.7 19.6,1.4" stroke="#aea897" stroke-width="1.0" fill="none"/>
<path d="M699.5,218.0 q10.4,-0.5 20.8,0.1" stroke="#989282" stroke-width="0.9" fill="none"/>
<path d="M723.5,251.7 q8.0,-1.7 16.0,-1.4" stroke="#c4beae" stroke-width="1.0" fill="none"/>
<path d="M714.9,214.0 q7.6,0.6 15.1,0.2" stroke="#c4beae" stroke-width="0.9" fill="none"/>
<path d="M681.4,234.3 q9.2,-1.1 18.3,-1.1" stroke="#c4beae" stroke-width="0.5" fill="none"/>
<path d="M697.9,246.8 q8.0,0.6 16.1,-0.4" stroke="#aea897" stroke-width="0.5" fill="none"/>
<path d="M722.3,222.8 q5.0,-2.0 10.1,-0.1" stroke="#aea897" stroke-width="0.9" fill="none"/>
<path d="M686.7,221.7 q5.8,1.8 11.5,0.0" stroke="#aea897" stroke-width="1.1" fill="none"/>
<path d="M723.9,220.6 q8.6,-1.7 17.2,1.3" stroke="#a39d8c" stroke-width="0.9" fill="none"/>
<path d="M698.4,218.9 q8.0,-0.5 16.0,0.2" stroke="#cfc9b9" stroke-width="1.0" fill="none"/>
<path d="M730.1,256.2 q6.7,1.9 13.4,-1.2" stroke="#aea897" stroke-width="1.0" fill="none"/>
<path d="M728.8,256.2 q4.0,1.6 8.0,1.4" stroke="#a39d8c" stroke-width="1.1" fill="none"/>
<path d="M720.2,241.7 q5.6,1.4 11.1,-0.5" stroke="#aea897" stroke-width="0.5" fill="none"/>
<path d="M704.6,236.3 q9.1,1.7 18.3,-0.8" stroke="#989282" stroke-width="1.0" fill="none"/>
<path d="M671.4,235.6 q7.3,1.2 14.5,-1.1" stroke="#aea897" stroke-width="0.6" fill="none"/>
<path d="M715.8,240.5 q9.7,-0.2 19.4,1.1" stroke="#aea897" stroke-width="0.8" fill="none"/>
<path d="M718.1,250.1 q6.5,-0.8 13.0,0.7" stroke="#d6d0c0" stroke-width="0.9" fill="none"/>
<path d="M723.6,240.9 q7.5,0.7 15.0,1.4" stroke="#c4beae" stroke-width="1.0" fill="none"/>
<path d="M688.8,245.7 q4.1,0.1 8.3,0.2" stroke="#d6d0c0" stroke-width="0.6" fill="none"/>
<path d="M701.6,241.6 q7.8,0.2 15.7,-1.4" stroke="#cfc9b9" stroke-width="1.1" fill="none"/>
<path d="M733.0,242.1 q4.0,0.8 8.0,-1.3" stroke="#cfc9b9" stroke-width="0.8" fill="none"/>
<path d="M730.9,234.8 q10.4,-1.0 20.8,-0.0" stroke="#c4beae" stroke-width="0.7" fill="none"/>
<path d="M729.5,262.0 q10.4,-0.7 20.7,-0.9" stroke="#d6d0c0" stroke-width="0.9" fill="none"/>
<path d="M677.5,263.3 q9.2,-1.9 18.5,-1.0" stroke="#cfc9b9" stroke-width="0.5" fill="none"/>
<path d="M715.8,227.6 q5.0,-1.6 9.9,0.7" stroke="#989282" stroke-width="0.6" fill="none"/>
<path d="M685.3,240.2 q4.6,1.5 9.2,-1.4" stroke="#d6d0c0" stroke-width="0.9" fill="none"/>
<path d="M708.9,257.7 q7.3,0.1 14.6,-0.8" stroke="#aea897" stroke-width="0.6" fill="none"/>
<path d="M707.0,242.0 q4.1,0.5 8.2,-0.5" stroke="#aea897" stroke-width="0.6" fill="none"/>
<path d="M726.6,245.4 q4.6,1.6 9.1,-1.1" stroke="#a39d8c" stroke-width="0.6" fill="none"/>
<path d="M685.9,252.2 q3.8,0.2 7.6,0.6" stroke="#989282" stroke-width="0.6" fill="none"/>
<path d="M720.7,246.7 q3.8,0.7 7.5,1.2" stroke="#d6d0c0" stroke-width="1.1" fill="none"/>
<path d="M701.8,218.1 q9.1,2.0 18.1,1.0" stroke="#d6d0c0" stroke-width="1.0" fill="none"/>
<path d="M670.7,238.6 q9.1,0.1 18.2,0.2" stroke="#d6d0c0" stroke-width="0.6" fill="none"/>
<path d="M682.3,222.0 q9.7,1.7 19.4,-1.2" stroke="#c4beae" stroke-width="0.5" fill="none"/>
<path d="M698.9,264.8 q9.1,-0.4 18.2,-0.2" stroke="#c4beae" stroke-width="0.7" fill="none"/>
<path d="M693.2,223.4 q8.1,1.4 16.1,-1.0" stroke="#cfc9b9" stroke-width="0.8" fill="none"/>
<path d="M695.3,253.0 q4.6,-1.6 9.1,0.9" stroke="#a39d8c" stroke-width="0.7" fill="none"/>
<path d="M723.5,216.4 q10.0,1.8 20.0,0.2" stroke="#aea897" stroke-width="0.6" fill="none"/>
<path d="M691.1,244.3 q9.1,1.6 18.2,0.7" stroke="#c4beae" stroke-width="1.0" fill="none"/>
<path d="M695.3,257.2 q10.2,0.8 20.3,0.8" stroke="#d6d0c0" stroke-width="1.0" fill="none"/>
<path d="M715.8,234.3 q3.6,-0.8 7.1,-1.2" stroke="#c4beae" stroke-width="1.0" fill="none"/>
<path d="M727.4,267.0 q3.4,1.8 6.8,0.5" stroke="#c4beae" stroke-width="0.7" fill="none"/>
<path d="M705.9,248.5 q7.3,0.1 14.5,-0.0" stroke="#989282" stroke-width="0.6" fill="none"/>
<path d="M694.6,218.4 q7.6,0.5 15.2,0.7" stroke="#cfc9b9" stroke-width="0.7" fill="none"/>
<path d="M672.4,234.1 q4.6,-2.0 9.1,-0.7" stroke="#989282" stroke-width="0.7" fill="none"/>
<path d="M704.0,230.7 q6.3,0.3 12.7,1.5" stroke="#d6d0c0" stroke-width="0.9" fill="none"/>
<path d="M674.0,256.9 q7.8,-0.5 15.6,1.3" stroke="#cfc9b9" stroke-width="0.7" fill="none"/>
<path d="M724.4,265.8 q7.3,-1.8 14.7,1.3" stroke="#d6d0c0" stroke-width="0.8" fill="none"/>
<path d="M707.7,241.1 q5.9,-0.1 11.8,-0.7" stroke="#c4beae" stroke-width="1.1" fill="none"/>
<path d="M717.4,248.7 q3.2,0.3 6.4,0.4" stroke="#a39d8c" stroke-width="0.7" fill="none"/>
<path d="M672.5,249.9 q5.5,-1.8 11.0,1.5" stroke="#989282" stroke-width="1.1" fill="none"/>
<path d="M727.6,215.8 q6.4,-1.0 12.9,0.8" stroke="#989282" stroke-width="0.5" fill="none"/>
<path d="M721.4,217.2 q10.3,1.9 20.6,1.0" stroke="#a39d8c" stroke-width="0.9" fill="none"/>
<path d="M709.4,218.1 q6.6,1.4 13.3,-0.4" stroke="#a39d8c" stroke-width="0.6" fill="none"/>
<path d="M678.1,232.0 q6.3,-1.0 12.7,0.2" stroke="#d6d0c0" stroke-width="0.8" fill="none"/>
<path d="M703.4,255.1 q11.0,0.9 22.0,-0.8" stroke="#c4beae" stroke-width="0.6" fill="none"/>
<path d="M719.8,261.5 q8.0,-0.9 16.0,0.3" stroke="#c4beae" stroke-width="0.9" fill="none"/>
<path d="M681.4,250.7 q5.2,-1.2 10.5,-0.8" stroke="#a39d8c" stroke-width="1.1" fill="none"/>
<path d="M725.9,262.8 q3.3,-2.0 6.6,-0.7" stroke="#cfc9b9" stroke-width="0.5" fill="none"/>
<path d="M683.5,213.8 q5.2,1.7 10.5,-1.0" stroke="#cfc9b9" stroke-width="0.6" fill="none"/>
<path d="M700.4,266.5 q5.8,-0.6 11.7,0.7" stroke="#c4beae" stroke-width="1.0" fill="none"/>
<path d="M676.8,215.8 q9.5,1.4 18.9,0.8" stroke="#d6d0c0" stroke-width="0.8" fill="none"/>
<path d="M694.3,253.4 q4.2,0.6 8.4,1.5" stroke="#a39d8c" stroke-width="0.7" fill="none"/>
<path d="M717.3,242.3 q10.4,0.6 20.7,0.2" stroke="#989282" stroke-width="0.8" fill="none"/>
<path d="M704.2,229.8 q6.5,-0.1 12.9,0.6" stroke="#d6d0c0" stroke-width="0.7" fill="none"/>
<path d="M674.0,255.0 q4.7,0.4 9.4,0.6" stroke="#aea897" stroke-width="0.8" fill="none"/>
<path d="M690.3,254.3 q10.1,-0.6 20.1,0.7" stroke="#a39d8c" stroke-width="0.7" fill="none"/>
<path d="M714.9,218.2 q7.6,1.7 15.1,-0.2" stroke="#aea897" stroke-width="1.0" fill="none"/>
<path d="M689.6,228.7 q6.2,1.6 12.4,-0.8" stroke="#aea897" stroke-width="0.7" fill="none"/>
<path d="M692.6,232.1 q6.2,1.2 12.3,0.7" stroke="#989282" stroke-width="0.7" fill="none"/>
<path d="M679.1,233.5 q7.7,-1.3 15.5,0.8" stroke="#a39d8c" stroke-width="1.0" fill="none"/>
<path d="M670.5,227.4 q7.1,-1.4 14.3,-0.6" stroke="#d6d0c0" stroke-width="0.5" fill="none"/>
<path d="M696.4,258.7 q7.7,1.2 15.3,-1.2" stroke="#c4beae" stroke-width="0.5" fill="none"/>
<path d="M727.2,252.8 q3.7,0.6 7.4,-1.2" stroke="#aea897" stroke-width="1.0" fill="none"/>
<path d="M715.1,235.3 q6.9,-0.6 13.8,-0.1" stroke="#d6d0c0" stroke-width="0.7" fill="none"/>
<path d="M690.6,256.7 q4.1,0.1 8.2,0.7" stroke="#989282" stroke-width="0.9" fill="none"/>
<path d="M695.6,262.8 q9.6,-0.6 19.2,-1.5" stroke="#aea897" stroke-width="0.7" fill="none"/>
<path d="M699.1,216.7 q7.3,0.1 14.7,0.6" stroke="#cfc9b9" stroke-width="1.0" fill="none"/>
<path d="M696.3,235.2 q4.2,-1.4 8.3,0.4" stroke="#aea897" stroke-width="0.9" fill="none"/>
<path d="M694.3,229.6 q7.2,1.9 14.5,-1.3" stroke="#c4beae" stroke-width="0.7" fill="none"/>
<path d="M711.0,218.1 q9.2,1.6 18.4,0.8" stroke="#a39d8c" stroke-width="0.5" fill="none"/>
<path d="M720.8,238.5 q5.5,-1.3 11.0,-0.8" stroke="#a39d8c" stroke-width="0.6" fill="none"/>
<path d="M707.5,251.7 q4.8,1.6 9.6,-0.3" stroke="#a39d8c" stroke-width="1.0" fill="none"/>
<path d="M709.6,264.0 q10.5,-0.1 21.1,-0.7" stroke="#d6d0c0" stroke-width="1.0" fill="none"/>
<path d="M691.2,262.7 q7.4,-0.1 14.8,-0.8" stroke="#cfc9b9" stroke-width="0.5" fill="none"/>
<path d="M720.9,264.6 q6.1,1.2 12.2,0.8" stroke="#d6d0c0" stroke-width="1.0" fill="none"/>
<path d="M728.8,214.9 q10.1,1.6 20.3,-0.1" stroke="#989282" stroke-width="0.6" fill="none"/>
<path d="M725.6,235.2 q6.3,-1.4 12.7,1.2" stroke="#c4beae" stroke-width="1.0" fill="none"/>
<path d="M717.0,219.0 q8.0,0.1 15.9,-1.0" stroke="#d6d0c0" stroke-width="1.0" fill="none"/>
<path d="M722.2,211.8 q9.8,-1.7 19.5,-0.7" stroke="#a39d8c" stroke-width="0.9" fill="none"/>
<path d="M700.1,217.1 q6.7,0.3 13.5,1.1" stroke="#aea897" stroke-width="0.7" fill="none"/>
<path d="M696.0,255.7 q10.3,1.1 20.7,-0.2" stroke="#cfc9b9" stroke-width="0.5" fill="none"/>
<path d="M701.0,234.8 q10.6,-0.7 21.1,-0.3" stroke="#c4beae" stroke-width="0.8" fill="none"/>
<path d="M712.2,267.3 q3.5,0.7 7.1,-1.2" stroke="#cfc9b9" stroke-width="0.7" fill="none"/>
<path d="M731.6,237.5 q9.6,-0.2 19.3,1.1" stroke="#aea897" stroke-width="0.9" fill="none"/>
<path d="M688.1,238.2 q3.9,1.4 7.8,1.0" stroke="#cfc9b9" stroke-width="0.9" fill="none"/>
<path d="M678.9,262.0 q8.0,1.0 16.0,1.4" stroke="#d6d0c0" stroke-width="1.0" fill="none"/>
<path d="M674.7,242.7 q4.5,0.9 9.0,-0.5" stroke="#989282" stroke-width="1.1" fill="none"/>
<path d="M715.9,243.1 q5.7,-1.6 11.3,-1.1" stroke="#989282" stroke-width="0.6" fill="none"/>
<path d="M714.9,249.5 q4.4,-1.9 8.9,-0.1" stroke="#989282" stroke-width="0.9" fill="none"/>
<path d="M671.2,217.3 q10.9,-0.4 21.8,-1.3" stroke="#989282" stroke-width="1.1" fill="none"/>
<path d="M702.1,235.5 q8.2,1.3 16.4,-0.3" stroke="#a39d8c" stroke-width="0.7" fill="none"/>
<path d="M670.1,234.7 q6.2,-0.7 12.4,0.9" stroke="#aea897" stroke-width="0.6" fill="none"/>
<path d="M703.3,266.7 q5.1,-0.6 10.2,0.5" stroke="#a39d8c" stroke-width="0.6" fill="none"/>
<path d="M702.0,232.8 q9.3,0.4 18.6,-1.0" stroke="#cfc9b9" stroke-width="1.0" fill="none"/>
<path d="M704.5,262.1 q5.8,0.1 11.6,0.2" stroke="#d6d0c0" stroke-width="0.6" fill="none"/>
<path d="M733.6,263.8 q8.7,0.3 17.3,-1.4" stroke="#a39d8c" stroke-width="0.9" fill="none"/>
<path d="M677.9,255.0 q6.8,0.8 13.6,-0.5" stroke="#989282" stroke-width="1.1" fill="none"/>
<path d="M699.0,231.9 q4.0,-1.5 8.0,1.2" stroke="#aea897" stroke-width="0.8" fill="none"/>
<path d="M705.3,243.0 q5.1,2.0 10.2,1.0" stroke="#aea897" stroke-width="0.9" fill="none"/>
<path d="M722.4,218.5 q5.3,-1.0 10.6,0.2" stroke="#c4beae" stroke-width="1.0" fill="none"/>
<path d="M704.5,222.1 q3.6,-0.4 7.2,0.8" stroke="#cfc9b9" stroke-width="1.1" fill="none"/>
<path d="M678.0,267.4 q9.0,1.6 18.1,0.3" stroke="#aea897" stroke-width="0.9" fill="none"/>
<path d="M679.3,254.3 q6.3,-1.4 12.6,-0.3" stroke="#cfc9b9" stroke-width="0.8" fill="none"/>
<path d="M702.7,221.4 q5.1,1.7 10.2,-1.3" stroke="#d6d0c0" stroke-width="1.0" fill="none"/>
<path d="M720.0,252.0 q6.2,0.4 12.5,-0.1" stroke="#989282" stroke-width="0.7" fill="none"/>
<ellipse cx="692.1" cy="237.7" rx="11" ry="14" fill="#9a9584" opacity="0.4" filter="url(#b3)"/>
<line x1="709.1" x2="711.1" y1="211.7" y2="267.5" stroke="#9c9686" stroke-width="1.5" opacity="0.22"/>
<line x1="721.1" x2="723.1" y1="211.7" y2="267.5" stroke="#9c9686" stroke-width="1.5" opacity="0.22"/>
</g></g>
<g clip-path="url(#cf20)"><rect x="744.9" y="211.7" width="65.2" height="55.8" fill="#f3e8cd"/>
<g filter="url(#b05)">
<line x1="744.9" x2="810.1" y1="213.2" y2="213.3" stroke="#c4ae7e" stroke-width="0.8"/>
<line x1="744.9" x2="810.1" y1="216.1" y2="216.3" stroke="#d6c59a" stroke-width="0.8"/>
<line x1="744.9" x2="810.1" y1="219.0" y2="219.3" stroke="#b9a273" stroke-width="0.8"/>
<line x1="744.9" x2="810.1" y1="221.9" y2="222.2" stroke="#c4ae7e" stroke-width="0.8"/>
<line x1="744.9" x2="810.1" y1="224.8" y2="224.8" stroke="#d6c59a" stroke-width="0.8"/>
<line x1="744.9" x2="810.1" y1="227.7" y2="228.3" stroke="#b9a273" stroke-width="0.8"/>
<line x1="744.9" x2="810.1" y1="230.6" y2="231.0" stroke="#c4ae7e" stroke-width="0.8"/>
<line x1="744.9" x2="810.1" y1="233.5" y2="233.9" stroke="#d6c59a" stroke-width="0.8"/>
<line x1="744.9" x2="810.1" y1="236.4" y2="236.3" stroke="#b9a273" stroke-width="0.8"/>
<line x1="744.9" x2="810.1" y1="239.3" y2="239.2" stroke="#c4ae7e" stroke-width="0.8"/>
<line x1="744.9" x2="810.1" y1="242.2" y2="242.3" stroke="#d6c59a" stroke-width="0.8"/>
<line x1="744.9" x2="810.1" y1="245.1" y2="245.6" stroke="#b9a273" stroke-width="0.8"/>
<line x1="744.9" x2="810.1" y1="248.0" y2="248.0" stroke="#c4ae7e" stroke-width="0.8"/>
<line x1="744.9" x2="810.1" y1="250.9" y2="250.9" stroke="#d6c59a" stroke-width="0.8"/>
<line x1="744.9" x2="810.1" y1="253.8" y2="253.7" stroke="#b9a273" stroke-width="0.8"/>
<line x1="744.9" x2="810.1" y1="256.7" y2="257.2" stroke="#c4ae7e" stroke-width="0.8"/>
<line x1="744.9" x2="810.1" y1="259.6" y2="259.4" stroke="#d6c59a" stroke-width="0.8"/>
<line x1="744.9" x2="810.1" y1="262.5" y2="262.0" stroke="#b9a273" stroke-width="0.8"/>
<line x1="744.9" x2="810.1" y1="265.4" y2="265.7" stroke="#c4ae7e" stroke-width="0.8"/>
<line x1="759.9" x2="759.9" y1="211.7" y2="267.5" stroke="#fbf4e0" stroke-width="2.2" opacity="0.5"/>
<line x1="779.9" x2="779.9" y1="211.7" y2="267.5" stroke="#fbf4e0" stroke-width="2.2" opacity="0.5"/>
<line x1="793.9" x2="793.9" y1="211.7" y2="267.5" stroke="#fbf4e0" stroke-width="2.2" opacity="0.5"/>
</g></g>
<text x="636.60" y="251.60" font-size="12.5" text-anchor="middle" fill="#000" font-family="Liberation Serif, serif" font-weight="bold" >Cotton</text>
<text x="636.30" y="266.10" font-size="12.5" text-anchor="middle" fill="#000" font-family="Liberation Serif, serif" font-weight="bold" textLength="66" lengthAdjust="spacingAndGlyphs">gauze fabric</text>
<text x="671.00" y="259.70" font-size="12.5" text-anchor="start" fill="#000" font-family="Liberation Serif, serif" font-weight="bold" textLength="71.8" lengthAdjust="spacingAndGlyphs">Cotton textile</text>
<text x="747.50" y="259.70" font-size="12.5" text-anchor="start" fill="#000" font-family="Liberation Serif, serif" font-weight="bold" textLength="60.7" lengthAdjust="spacingAndGlyphs">APB textile</text>
<g clip-path="url(#cf01)"><rect x="603.3" y="274.9" width="65.9" height="55.6" fill="url(#gf01)"/>
<g filter="url(#b3)">
<ellipse cx="655.3" cy="316.9" rx="16" ry="14" fill="#ffc620" opacity="0.75"/>
<ellipse cx="604.3" cy="314.9" rx="5" ry="18" fill="#8a1e98" opacity="0.85"/>
<ellipse cx="604.3" cy="328.5" rx="7" ry="9" fill="#2c0a74"/>
<rect x="611.3" y="270.9" width="65.90000000000009" height="7" fill="#ee6e30" opacity="0.7"/>
<ellipse cx="619.3" cy="329.5" rx="14" ry="3" fill="#c03a7c" opacity="0.7"/>
</g></g>
<g clip-path="url(#cf02)"><rect x="603.3" y="338.1" width="65.9" height="55.8" fill="url(#gf02)"/>
<g filter="url(#b3)">
<ellipse cx="640.3" cy="376.1" rx="11" ry="13" fill="#f06a40" opacity="0.75"/>
<ellipse cx="655.3" cy="366.1" rx="10" ry="10" fill="#e85a50" opacity="0.5"/>
<ellipse cx="605.3" cy="382.1" rx="6" ry="16" fill="#8a24a2" opacity="0.85"/>
<rect x="603.3" y="335.1" width="65.90000000000009" height="8" fill="#b83494" opacity="0.75"/>
</g></g>
<g clip-path="url(#cf11)"><rect x="674.1" y="274.9" width="65.6" height="55.6" fill="#8426a8"/><g filter="url(#bf)"><path d="M705.2,276.5 Q690.2,274.1 672.1,264.7" stroke="#8a2aac" stroke-width="2.8" fill="none" opacity="0.85"/><path d="M706.2,273.7 Q692.9,271.8 677.7,268.2" stroke="#2a0870" stroke-width="1.7" fill="none" stroke-linecap="round" opacity="0.53"/><path d="M711.2,276.0 Q725.0,272.6 741.7,270.2" stroke="#a8389e" stroke-width="1.9" fill="none" opacity="0.85"/><path d="M710.2,273.4 Q716.3,272.0 724.3,268.7" stroke="#30087a" stroke-width="2.0" fill="none" stroke-linecap="round" opacity="0.85"/><ellipse cx="707.5" cy="273.0" rx="2.7" ry="1.6" fill="#1c0650"/><path d="M705.2,283.0 Q690.2,281.1 672.1,276.3" stroke="#a8389e" stroke-width="1.8" fill="none" opacity="0.85"/><path d="M706.2,279.8 Q696.5,277.5 684.7,275.8" stroke="#3a0a84" stroke-width="3.7" fill="none" stroke-linecap="round" opacity="0.80"/><path d="M711.2,284.5 Q725.0,280.9 741.7,277.1" stroke="#b4449a" stroke-width="1.8" fill="none" opacity="0.85"/><path d="M710.2,279.5 Q716.8,277.8 725.5,275.1" stroke="#2a0870" stroke-width="2.9" fill="none" stroke-linecap="round" opacity="0.80"/><ellipse cx="707.3" cy="280.0" rx="3.0" ry="2.2" fill="#1c0650"/><path d="M705.2,289.9 Q690.2,285.3 672.1,277.9" stroke="#a8389e" stroke-width="1.5" fill="none" opacity="0.85"/><path d="M706.2,287.1 Q702.6,285.1 697.0,284.8" stroke="#30087a" stroke-width="2.9" fill="none" stroke-linecap="round" opacity="0.45"/><path d="M711.2,289.1 Q725.0,286.4 741.7,278.0" stroke="#a8389e" stroke-width="1.7" fill="none" opacity="0.85"/><path d="M710.2,286.1 Q717.0,283.0 725.8,281.9" stroke="#30087a" stroke-width="3.3" fill="none" stroke-linecap="round" opacity="0.50"/><ellipse cx="708.7" cy="286.9" rx="3.8" ry="1.6" fill="#1c0650"/><path d="M705.2,296.6 Q690.2,293.3 672.1,288.5" stroke="#8a2aac" stroke-width="1.8" fill="none" opacity="0.85"/><path d="M706.2,293.5 Q699.1,290.2 690.0,290.5" stroke="#2a0870" stroke-width="1.8" fill="none" stroke-linecap="round" opacity="0.52"/><path d="M711.2,297.8 Q725.0,293.7 741.7,292.2" stroke="#b4449a" stroke-width="3.2" fill="none" opacity="0.85"/><path d="M710.2,294.0 Q713.6,292.2 719.0,291.9" stroke="#30087a" stroke-width="2.2" fill="none" stroke-linecap="round" opacity="0.78"/><ellipse cx="707.5" cy="294.6" rx="3.5" ry="2.2" fill="#1c0650"/><path d="M705.2,303.4 Q690.2,301.4 672.1,293.6" stroke="#c24e84" stroke-width="2.8" fill="none" opacity="0.85"/><path d="M706.2,299.8 Q698.4,295.6 688.6,295.5" stroke="#30087a" stroke-width="1.9" fill="none" stroke-linecap="round" opacity="0.91"/><path d="M711.2,304.2 Q725.0,302.6 741.7,296.2" stroke="#a8389e" stroke-width="2.3" fill="none" opacity="0.85"/><path d="M710.2,301.0 Q716.2,298.3 724.2,295.9" stroke="#30087a" stroke-width="1.8" fill="none" stroke-linecap="round" opacity="0.86"/><ellipse cx="708.3" cy="300.2" rx="3.9" ry="2.3" fill="#1c0650"/><path d="M705.2,310.3 Q690.2,307.9 672.1,299.0" stroke="#c24e84" stroke-width="2.1" fill="none" opacity="0.85"/><path d="M706.2,307.5 Q694.6,305.2 681.1,299.7" stroke="#1c0650" stroke-width="2.4" fill="none" stroke-linecap="round" opacity="0.80"/><path d="M711.2,309.9 Q725.0,306.1 741.7,298.7" stroke="#b4449a" stroke-width="2.7" fill="none" opacity="0.85"/><path d="M710.2,307.8 Q720.3,305.5 732.4,304.6" stroke="#1c0650" stroke-width="2.8" fill="none" stroke-linecap="round" opacity="0.58"/><ellipse cx="708.6" cy="306.9" rx="3.7" ry="2.1" fill="#1c0650"/><path d="M705.2,317.2 Q690.2,314.6 672.1,306.1" stroke="#8a2aac" stroke-width="2.1" fill="none" opacity="0.85"/><path d="M706.2,314.8 Q691.3,313.4 674.5,306.8" stroke="#30087a" stroke-width="2.8" fill="none" stroke-linecap="round" opacity="0.53"/><path d="M711.2,318.2 Q725.0,314.5 741.7,312.5" stroke="#b4449a" stroke-width="2.6" fill="none" opacity="0.85"/><path d="M710.2,314.0 Q716.5,311.5 724.8,308.8" stroke="#30087a" stroke-width="2.2" fill="none" stroke-linecap="round" opacity="0.95"/><ellipse cx="707.6" cy="314.2" rx="3.5" ry="1.7" fill="#1c0650"/><path d="M705.2,324.0 Q690.2,322.2 672.1,312.0" stroke="#9a34ae" stroke-width="1.8" fill="none" opacity="0.85"/><path d="M706.2,322.1 Q699.1,318.3 689.9,319.0" stroke="#2a0870" stroke-width="1.7" fill="none" stroke-linecap="round" opacity="0.68"/><path d="M711.2,324.4 Q725.0,320.1 741.7,318.0" stroke="#c24e84" stroke-width="2.7" fill="none" opacity="0.85"/><path d="M710.2,321.0 Q717.6,317.8 727.1,317.0" stroke="#1c0650" stroke-width="1.9" fill="none" stroke-linecap="round" opacity="0.87"/><ellipse cx="708.0" cy="320.7" rx="3.4" ry="1.7" fill="#1c0650"/><path d="M705.2,331.2 Q690.2,327.3 672.1,323.3" stroke="#c24e84" stroke-width="1.7" fill="none" opacity="0.85"/><path d="M706.2,328.0 Q697.3,324.1 686.4,323.4" stroke="#1c0650" stroke-width="2.6" fill="none" stroke-linecap="round" opacity="0.55"/><path d="M711.2,330.8 Q725.0,327.3 741.7,320.1" stroke="#9a34ae" stroke-width="1.5" fill="none" opacity="0.85"/><path d="M710.2,327.4 Q716.8,325.9 725.3,323.1" stroke="#3a0a84" stroke-width="2.5" fill="none" stroke-linecap="round" opacity="0.94"/><ellipse cx="708.2" cy="328.1" rx="3.6" ry="1.9" fill="#1c0650"/><path d="M705.2,338.1 Q690.2,334.1 672.1,326.1" stroke="#c24e84" stroke-width="2.3" fill="none" opacity="0.85"/><path d="M706.2,335.3 Q691.7,331.9 675.2,324.6" stroke="#1c0650" stroke-width="1.9" fill="none" stroke-linecap="round" opacity="0.46"/><path d="M711.2,339.1 Q725.0,335.3 741.7,333.7" stroke="#b4449a" stroke-width="1.7" fill="none" opacity="0.85"/><path d="M710.2,335.2 Q719.0,331.9 729.9,328.2" stroke="#30087a" stroke-width="3.3" fill="none" stroke-linecap="round" opacity="0.57"/><ellipse cx="707.7" cy="335.0" rx="4.0" ry="1.8" fill="#1c0650"/><rect x="736.5" y="274.9" width="4" height="55.60000000000002" fill="#ffd84a"/><rect x="733.7" y="274.9" width="3" height="55.60000000000002" fill="#f48a2a" opacity="0.8"/><ellipse cx="677.1" cy="301.9" rx="11" ry="17" fill="#ee7a34" opacity="0.75" transform="rotate(0 677.1 301.9)"/><ellipse cx="734.7" cy="278.9" rx="6" ry="5" fill="#ffe05a" opacity="1" transform="rotate(0 734.7 278.9)"/><ellipse cx="729.7" cy="324.9" rx="8" ry="3" fill="#f89a2a" opacity="1" transform="rotate(-15 729.7 324.9)"/><line x1="730.5" y1="280.9" x2="731.2" y2="325.5" stroke="#1e0658" stroke-width="2.6"/><ellipse cx="677.1" cy="298.9" rx="7" ry="9" fill="#fba82a" opacity="1" transform="rotate(0 677.1 298.9)"/><ellipse cx="676.1" cy="296.9" rx="4" ry="6" fill="#ffd040" opacity="1" transform="rotate(0 676.1 296.9)"/><ellipse cx="680.1" cy="310.9" rx="8" ry="3" fill="#f07a30" opacity="1" transform="rotate(-18 680.1 310.9)"/><ellipse cx="679.1" cy="288.9" rx="6" ry="2.5" fill="#ee6a38" opacity="1" transform="rotate(-15 679.1 288.9)"/><ellipse cx="706.9" cy="275.9" rx="8" ry="2.2" fill="#ffc83a" opacity="1" transform="rotate(0 706.9 275.9)"/><ellipse cx="693.8" cy="275.9" rx="5" ry="1.8" fill="#f07a30" opacity="1" transform="rotate(0 693.8 275.9)"/><ellipse cx="694.4" cy="315.5" rx="5" ry="2.3" fill="#ffb42e" opacity="1" transform="rotate(-25 694.4 315.5)"/><ellipse cx="722.6" cy="313.3" rx="8" ry="3" fill="#ffc030" opacity="1" transform="rotate(10 722.6 313.3)"/><ellipse cx="717.4" cy="317.2" rx="8" ry="2.2" fill="#f4862c" opacity="1" transform="rotate(12 717.4 317.2)"/><ellipse cx="703.6" cy="329.5" rx="22" ry="2.6" fill="#f48a2c" opacity="1" transform="rotate(0 703.6 329.5)"/><ellipse cx="687.2" cy="323.8" rx="9" ry="2.2" fill="#ee7030" opacity="1" transform="rotate(-12 687.2 323.8)"/><ellipse cx="679.1" cy="276.9" rx="5" ry="2" fill="#1a0650" opacity="1" transform="rotate(0 679.1 276.9)"/><ellipse cx="682.6" cy="309.4" rx="6" ry="2" fill="#1a0650" opacity="1" transform="rotate(-20 682.6 309.4)"/></g></g>
<g clip-path="url(#cf12)"><rect x="674.1" y="338.1" width="65.6" height="55.8" fill="#8226aa"/><g filter="url(#bf)"><path d="M705.2,339.1 Q690.2,335.5 672.1,333.2" stroke="#a43ca6" stroke-width="2.9" fill="none" opacity="0.85"/><path d="M706.2,335.3 Q692.1,331.6 676.0,330.5" stroke="#34087c" stroke-width="2.5" fill="none" stroke-linecap="round" opacity="0.57"/><path d="M711.2,339.6 Q725.0,337.5 741.7,333.6" stroke="#9834b0" stroke-width="1.9" fill="none" opacity="0.85"/><path d="M710.2,336.4 Q719.5,333.4 730.8,328.8" stroke="#34087c" stroke-width="1.7" fill="none" stroke-linecap="round" opacity="0.88"/><ellipse cx="707.8" cy="335.7" rx="2.7" ry="1.8" fill="#2a0870"/><path d="M705.2,346.1 Q690.2,342.4 672.1,336.9" stroke="#a43ca6" stroke-width="1.6" fill="none" opacity="0.85"/><path d="M706.2,342.4 Q697.0,339.7 685.7,335.9" stroke="#440c8c" stroke-width="2.6" fill="none" stroke-linecap="round" opacity="0.91"/><path d="M711.2,346.5 Q725.0,344.3 741.7,337.0" stroke="#a43ca6" stroke-width="1.9" fill="none" opacity="0.85"/><path d="M710.2,343.5 Q722.8,341.6 737.3,338.0" stroke="#3a0a84" stroke-width="3.8" fill="none" stroke-linecap="round" opacity="0.51"/><ellipse cx="708.0" cy="343.6" rx="2.8" ry="2.0" fill="#2a0870"/><path d="M705.2,353.2 Q690.2,349.5 672.1,345.3" stroke="#8c2cae" stroke-width="2.3" fill="none" opacity="0.85"/><path d="M706.2,350.1 Q692.9,348.6 677.7,343.1" stroke="#34087c" stroke-width="3.1" fill="none" stroke-linecap="round" opacity="0.48"/><path d="M711.2,353.3 Q725.0,349.6 741.7,345.7" stroke="#b0469e" stroke-width="2.6" fill="none" opacity="0.85"/><path d="M710.2,348.5 Q717.1,346.3 726.0,344.4" stroke="#3a0a84" stroke-width="2.1" fill="none" stroke-linecap="round" opacity="0.59"/><ellipse cx="708.7" cy="349.4" rx="3.9" ry="2.0" fill="#2a0870"/><path d="M705.2,359.1 Q690.2,356.9 672.1,348.0" stroke="#8c2cae" stroke-width="3.0" fill="none" opacity="0.85"/><path d="M706.2,355.4 Q691.2,353.1 674.2,348.3" stroke="#3a0a84" stroke-width="2.1" fill="none" stroke-linecap="round" opacity="0.49"/><path d="M711.2,358.6 Q725.0,354.0 741.7,348.3" stroke="#a43ca6" stroke-width="1.8" fill="none" opacity="0.85"/><path d="M710.2,355.4 Q717.8,352.4 727.4,350.7" stroke="#440c8c" stroke-width="3.7" fill="none" stroke-linecap="round" opacity="0.80"/><ellipse cx="708.2" cy="356.0" rx="3.5" ry="1.6" fill="#2a0870"/><path d="M705.2,367.2 Q690.2,363.6 672.1,358.9" stroke="#b0469e" stroke-width="2.3" fill="none" opacity="0.85"/><path d="M706.2,363.0 Q702.0,359.3 695.8,361.0" stroke="#440c8c" stroke-width="2.3" fill="none" stroke-linecap="round" opacity="0.48"/><path d="M711.2,365.6 Q725.0,362.7 741.7,354.6" stroke="#a43ca6" stroke-width="2.5" fill="none" opacity="0.85"/><path d="M710.2,362.3 Q719.9,358.7 731.6,358.1" stroke="#440c8c" stroke-width="2.4" fill="none" stroke-linecap="round" opacity="0.63"/><ellipse cx="707.5" cy="363.6" rx="4.0" ry="2.0" fill="#2a0870"/><path d="M705.2,372.5 Q690.2,370.0 672.1,362.0" stroke="#9834b0" stroke-width="2.3" fill="none" opacity="0.85"/><path d="M706.2,370.4 Q700.4,368.9 692.6,367.1" stroke="#34087c" stroke-width="3.1" fill="none" stroke-linecap="round" opacity="0.91"/><path d="M711.2,373.9 Q725.0,372.3 741.7,363.4" stroke="#8c2cae" stroke-width="2.7" fill="none" opacity="0.85"/><path d="M710.2,369.5 Q723.1,366.4 738.0,364.2" stroke="#2a0870" stroke-width="2.8" fill="none" stroke-linecap="round" opacity="0.70"/><ellipse cx="708.5" cy="370.1" rx="3.7" ry="2.2" fill="#2a0870"/><path d="M705.2,379.2 Q690.2,376.7 672.1,372.1" stroke="#b0469e" stroke-width="2.4" fill="none" opacity="0.85"/><path d="M706.2,376.1 Q691.2,374.1 674.1,368.3" stroke="#34087c" stroke-width="2.0" fill="none" stroke-linecap="round" opacity="0.75"/><path d="M711.2,379.4 Q725.0,377.8 741.7,372.0" stroke="#8c2cae" stroke-width="1.9" fill="none" opacity="0.85"/><path d="M710.2,375.8 Q716.9,373.1 725.6,370.0" stroke="#440c8c" stroke-width="2.9" fill="none" stroke-linecap="round" opacity="0.45"/><ellipse cx="709.0" cy="376.2" rx="3.5" ry="2.3" fill="#2a0870"/><path d="M705.2,385.8 Q690.2,382.5 672.1,379.0" stroke="#a43ca6" stroke-width="2.8" fill="none" opacity="0.85"/><path d="M706.2,382.3 Q697.4,380.2 686.5,379.1" stroke="#3a0a84" stroke-width="1.9" fill="none" stroke-linecap="round" opacity="0.95"/><path d="M711.2,385.1 Q725.0,383.0 741.7,379.0" stroke="#b0469e" stroke-width="2.9" fill="none" opacity="0.85"/><path d="M710.2,383.6 Q714.9,381.1 721.7,381.8" stroke="#2a0870" stroke-width="3.4" fill="none" stroke-linecap="round" opacity="0.81"/><ellipse cx="707.4" cy="382.9" rx="2.8" ry="2.4" fill="#2a0870"/><path d="M705.2,393.2 Q690.2,389.1 672.1,385.6" stroke="#9834b0" stroke-width="1.9" fill="none" opacity="0.85"/><path d="M706.2,389.2 Q696.4,387.4 684.6,385.8" stroke="#2a0870" stroke-width="3.2" fill="none" stroke-linecap="round" opacity="0.90"/><path d="M711.2,392.7 Q725.0,390.7 741.7,382.2" stroke="#b0469e" stroke-width="1.7" fill="none" opacity="0.85"/><path d="M710.2,388.3 Q722.7,386.5 737.3,380.9" stroke="#34087c" stroke-width="3.3" fill="none" stroke-linecap="round" opacity="0.52"/><ellipse cx="707.5" cy="389.2" rx="2.7" ry="1.6" fill="#2a0870"/><path d="M705.2,399.5 Q690.2,397.1 672.1,393.2" stroke="#b0469e" stroke-width="2.5" fill="none" opacity="0.85"/><path d="M706.2,395.6 Q702.3,391.5 696.4,392.9" stroke="#2a0870" stroke-width="1.7" fill="none" stroke-linecap="round" opacity="0.90"/><path d="M711.2,398.6 Q725.0,395.9 741.7,390.3" stroke="#8c2cae" stroke-width="2.4" fill="none" opacity="0.85"/><path d="M710.2,396.5 Q718.8,394.8 729.3,391.5" stroke="#3a0a84" stroke-width="2.1" fill="none" stroke-linecap="round" opacity="0.71"/><ellipse cx="709.0" cy="396.6" rx="3.9" ry="2.3" fill="#2a0870"/><ellipse cx="676.1" cy="366.0" rx="5" ry="17" fill="#e0607a" opacity="0.9" transform="rotate(0 676.1 366.0)"/><ellipse cx="678.1" cy="357.6" rx="7" ry="2.5" fill="#ea7a5a" opacity="1" transform="rotate(-15 678.1 357.6)"/><ellipse cx="679.1" cy="378.3" rx="8" ry="2.5" fill="#e06a70" opacity="1" transform="rotate(-15 679.1 378.3)"/><ellipse cx="697.7" cy="378.3" rx="5" ry="2.2" fill="#f89a34" opacity="1" transform="rotate(-25 697.7 378.3)"/><ellipse cx="726.6" cy="376.0" rx="6.5" ry="2.6" fill="#fba02e" opacity="1" transform="rotate(8 726.6 376.0)"/><ellipse cx="720.0" cy="378.3" rx="6" ry="2" fill="#e86a50" opacity="1" transform="rotate(10 720.0 378.3)"/><line x1="731.8" y1="348.1" x2="732.5" y2="385.9" stroke="#2c0874" stroke-width="2" opacity="0.8"/><ellipse cx="737.7" cy="372.7" rx="3" ry="6" fill="#d8507a" opacity="1" transform="rotate(0 737.7 372.7)"/><ellipse cx="677.1" cy="341.1" rx="5" ry="2.4" fill="#1c0650" opacity="1" transform="rotate(0 677.1 341.1)"/><ellipse cx="706.9" cy="392.9" rx="24" ry="2" fill="#7a1ea6" opacity="1" transform="rotate(0 706.9 392.9)"/></g></g>
<g clip-path="url(#cf21)"><rect x="744.9" y="274.9" width="65.2" height="55.6" fill="#3e0e8e"/><g filter="url(#bf)"><rect x="764.5" y="281.6" width="27.4" height="44.5" fill="#4a1498" opacity="0.8"/><path d="M775.8,276.3 Q760.9,273.6 742.9,272.1" stroke="#46109a" stroke-width="2.7" fill="none" opacity="0.85"/><path d="M776.8,272.6 Q762.9,269.6 747.1,267.8" stroke="#22086a" stroke-width="3.0" fill="none" stroke-linecap="round" opacity="0.47"/><path d="M781.8,276.2 Q795.5,275.6 812.1,271.4" stroke="#5e1ea2" stroke-width="1.8" fill="none" opacity="0.85"/><path d="M780.8,272.0 Q789.3,271.7 799.7,268.7" stroke="#1e0658" stroke-width="3.3" fill="none" stroke-linecap="round" opacity="0.64"/><ellipse cx="779.3" cy="272.4" rx="3.0" ry="2.1" fill="#1a0650"/><path d="M775.8,283.6 Q760.9,282.4 742.9,276.4" stroke="#4c149a" stroke-width="2.2" fill="none" opacity="0.85"/><path d="M776.8,279.9 Q771.1,279.3 763.4,276.9" stroke="#160546" stroke-width="1.7" fill="none" stroke-linecap="round" opacity="0.64"/><path d="M781.8,283.7 Q795.5,281.0 812.1,277.8" stroke="#4c149a" stroke-width="2.9" fill="none" opacity="0.85"/><path d="M780.8,281.1 Q785.1,279.8 791.4,278.7" stroke="#160546" stroke-width="2.0" fill="none" stroke-linecap="round" opacity="0.45"/><ellipse cx="778.0" cy="280.3" rx="2.6" ry="1.7" fill="#1a0650"/><path d="M775.8,291.6 Q760.9,288.2 742.9,287.3" stroke="#5e1ea2" stroke-width="2.8" fill="none" opacity="0.85"/><path d="M776.8,287.6 Q771.4,286.2 764.0,284.6" stroke="#1e0658" stroke-width="1.7" fill="none" stroke-linecap="round" opacity="0.73"/><path d="M781.8,290.9 Q795.5,289.8 812.1,285.0" stroke="#561aa0" stroke-width="2.5" fill="none" opacity="0.85"/><path d="M780.8,286.3 Q794.1,283.9 809.4,281.4" stroke="#22086a" stroke-width="1.7" fill="none" stroke-linecap="round" opacity="0.63"/><ellipse cx="779.2" cy="287.3" rx="3.7" ry="1.7" fill="#1a0650"/><path d="M775.8,298.2 Q760.9,296.1 742.9,293.2" stroke="#46109a" stroke-width="3.2" fill="none" opacity="0.85"/><path d="M776.8,294.1 Q769.0,292.7 759.2,292.6" stroke="#160546" stroke-width="1.8" fill="none" stroke-linecap="round" opacity="0.56"/><path d="M781.8,297.0 Q795.5,294.6 812.1,292.8" stroke="#4c149a" stroke-width="2.4" fill="none" opacity="0.85"/><path d="M780.8,293.1 Q792.2,292.4 805.7,289.2" stroke="#22086a" stroke-width="3.2" fill="none" stroke-linecap="round" opacity="0.57"/><ellipse cx="779.3" cy="293.9" rx="2.9" ry="2.4" fill="#1a0650"/><path d="M775.8,304.1 Q760.9,301.0 742.9,299.5" stroke="#46109a" stroke-width="2.7" fill="none" opacity="0.85"/><path d="M776.8,301.6 Q772.8,301.3 766.9,300.4" stroke="#160546" stroke-width="3.7" fill="none" stroke-linecap="round" opacity="0.94"/><path d="M781.8,304.6 Q795.5,301.4 812.1,299.7" stroke="#4c149a" stroke-width="2.8" fill="none" opacity="0.85"/><path d="M780.8,300.4 Q794.3,298.4 809.7,297.4" stroke="#160546" stroke-width="2.8" fill="none" stroke-linecap="round" opacity="0.52"/><ellipse cx="778.0" cy="300.9" rx="3.6" ry="1.7" fill="#1a0650"/><path d="M775.8,311.7 Q760.9,310.0 742.9,305.0" stroke="#5e1ea2" stroke-width="2.6" fill="none" opacity="0.85"/><path d="M776.8,307.3 Q769.3,306.9 759.9,305.2" stroke="#22086a" stroke-width="1.9" fill="none" stroke-linecap="round" opacity="0.85"/><path d="M781.8,311.9 Q795.5,310.9 812.1,307.9" stroke="#561aa0" stroke-width="1.5" fill="none" opacity="0.85"/><path d="M780.8,307.1 Q790.2,305.7 801.6,305.1" stroke="#22086a" stroke-width="2.8" fill="none" stroke-linecap="round" opacity="0.75"/><ellipse cx="778.3" cy="307.3" rx="3.5" ry="2.1" fill="#1a0650"/><path d="M775.8,318.3 Q760.9,316.3 742.9,312.7" stroke="#46109a" stroke-width="3.0" fill="none" opacity="0.85"/><path d="M776.8,314.0 Q772.7,311.5 766.5,312.8" stroke="#120440" stroke-width="1.8" fill="none" stroke-linecap="round" opacity="0.70"/><path d="M781.8,317.5 Q795.5,316.2 812.1,314.2" stroke="#4c149a" stroke-width="1.9" fill="none" opacity="0.85"/><path d="M780.8,314.8 Q792.7,313.9 806.6,310.4" stroke="#120440" stroke-width="3.5" fill="none" stroke-linecap="round" opacity="0.47"/><ellipse cx="779.0" cy="315.0" rx="3.5" ry="1.9" fill="#1a0650"/><path d="M775.8,324.2 Q760.9,320.9 742.9,320.6" stroke="#561aa0" stroke-width="2.6" fill="none" opacity="0.85"/><path d="M776.8,321.4 Q773.1,320.5 767.4,320.0" stroke="#22086a" stroke-width="3.3" fill="none" stroke-linecap="round" opacity="0.45"/><path d="M781.8,325.7 Q795.5,325.3 812.1,318.8" stroke="#561aa0" stroke-width="2.9" fill="none" opacity="0.85"/><path d="M780.8,320.5 Q791.1,318.8 803.3,318.2" stroke="#120440" stroke-width="3.7" fill="none" stroke-linecap="round" opacity="0.50"/><ellipse cx="777.9" cy="320.8" rx="3.5" ry="1.7" fill="#1a0650"/><path d="M775.8,330.3 Q760.9,327.9 742.9,324.3" stroke="#561aa0" stroke-width="1.9" fill="none" opacity="0.85"/><path d="M776.8,327.3 Q773.2,324.8 767.7,325.5" stroke="#1e0658" stroke-width="3.7" fill="none" stroke-linecap="round" opacity="0.71"/><path d="M781.8,331.1 Q795.5,329.1 812.1,326.7" stroke="#46109a" stroke-width="3.0" fill="none" opacity="0.85"/><path d="M780.8,328.0 Q785.2,325.0 791.7,326.7" stroke="#120440" stroke-width="2.4" fill="none" stroke-linecap="round" opacity="0.94"/><ellipse cx="778.6" cy="327.2" rx="4.0" ry="1.8" fill="#1a0650"/><path d="M775.8,337.8 Q760.9,335.0 742.9,331.9" stroke="#5e1ea2" stroke-width="2.3" fill="none" opacity="0.85"/><path d="M776.8,334.9 Q768.4,332.0 758.0,332.5" stroke="#22086a" stroke-width="2.6" fill="none" stroke-linecap="round" opacity="0.91"/><path d="M781.8,338.7 Q795.5,335.9 812.1,334.0" stroke="#5e1ea2" stroke-width="2.1" fill="none" opacity="0.85"/><path d="M780.8,334.6 Q785.8,333.6 792.9,332.3" stroke="#160546" stroke-width="1.9" fill="none" stroke-linecap="round" opacity="0.76"/><ellipse cx="778.5" cy="335.2" rx="3.4" ry="2.2" fill="#1a0650"/><ellipse cx="792.8" cy="304.8" rx="5.7" ry="1.8" fill="#0c0430" transform="rotate(-12 792.8 304.8)"/><ellipse cx="753.7" cy="294.0" rx="8.2" ry="2.7" fill="#100438" transform="rotate(13 753.7 294.0)"/><ellipse cx="763.5" cy="304.4" rx="4.4" ry="1.8" fill="#160546" transform="rotate(6 763.5 304.4)"/><ellipse cx="762.8" cy="312.3" rx="6.5" ry="3.2" fill="#160546" transform="rotate(16 762.8 312.3)"/><ellipse cx="795.8" cy="307.0" rx="8.3" ry="2.7" fill="#160546" transform="rotate(-11 795.8 307.0)"/><ellipse cx="792.7" cy="323.3" rx="6.8" ry="3.2" fill="#100438" transform="rotate(-15 792.7 323.3)"/><ellipse cx="763.2" cy="321.9" rx="5.4" ry="2.7" fill="#0c0430" transform="rotate(12 763.2 321.9)"/><ellipse cx="763.7" cy="285.0" rx="6.3" ry="3.0" fill="#100438" transform="rotate(8 763.7 285.0)"/><ellipse cx="755.7" cy="295.1" rx="7.0" ry="2.8" fill="#160546" transform="rotate(5 755.7 295.1)"/><ellipse cx="759.3" cy="325.1" rx="7.8" ry="2.6" fill="#160546" transform="rotate(9 759.3 325.1)"/><ellipse cx="797.1" cy="277.9" rx="14" ry="4.5" fill="#0c0430" opacity="1" transform="rotate(0 797.1 277.9)"/><ellipse cx="757.9" cy="282.9" rx="13" ry="3.2" fill="#0e0434" opacity="1" transform="rotate(-6 757.9 282.9)"/><ellipse cx="755.3" cy="302.7" rx="5" ry="7" fill="#120540" opacity="1" transform="rotate(0 755.3 302.7)"/><ellipse cx="769.7" cy="323.8" rx="14" ry="3.4" fill="#0e0434" opacity="1" transform="rotate(4 769.7 323.8)"/><ellipse cx="793.8" cy="309.4" rx="10" ry="3" fill="#120540" opacity="1" transform="rotate(8 793.8 309.4)"/><ellipse cx="800.3" cy="291.6" rx="8" ry="3" fill="#160648" opacity="1" transform="rotate(-10 800.3 291.6)"/><ellipse cx="746.4" cy="305.5" rx="3" ry="8" fill="#e0607a" opacity="1" transform="rotate(0 746.4 305.5)"/><ellipse cx="761.9" cy="317.7" rx="8" ry="1.6" fill="#c04a8a" opacity="1" transform="rotate(8 761.9 317.7)"/><ellipse cx="751.4" cy="286.0" rx="6" ry="1.5" fill="#9a2c9c" opacity="1" transform="rotate(-8 751.4 286.0)"/><ellipse cx="809.1" cy="291.6" rx="2.5" ry="3" fill="#c0408a" opacity="1" transform="rotate(0 809.1 291.6)"/><ellipse cx="809.1" cy="319.4" rx="3" ry="2.2" fill="#e06a6a" opacity="1" transform="rotate(0 809.1 319.4)"/><ellipse cx="746.9" cy="327.5" rx="4" ry="4" fill="#b03a90" opacity="1" transform="rotate(0 746.9 327.5)"/></g></g>
<g clip-path="url(#cf22)"><rect x="744.9" y="338.1" width="65.2" height="55.8" fill="#3a0c8a"/><g filter="url(#bf)"><rect x="764.5" y="344.8" width="27.4" height="44.6" fill="#4a1498" opacity="0.8"/><path d="M775.8,339.1 Q760.9,337.8 742.9,330.8" stroke="#44109a" stroke-width="3.0" fill="none" opacity="0.85"/><path d="M776.8,336.4 Q763.3,334.7 747.7,332.4" stroke="#160546" stroke-width="1.8" fill="none" stroke-linecap="round" opacity="0.87"/><path d="M781.8,340.1 Q795.5,337.6 812.1,332.2" stroke="#48129a" stroke-width="2.5" fill="none" opacity="0.85"/><path d="M780.8,335.1 Q792.8,331.9 806.9,328.8" stroke="#0c0430" stroke-width="3.6" fill="none" stroke-linecap="round" opacity="0.58"/><ellipse cx="778.7" cy="336.0" rx="2.8" ry="2.3" fill="#1a0650"/><path d="M775.8,345.9 Q760.9,343.5 742.9,339.4" stroke="#44109a" stroke-width="2.1" fill="none" opacity="0.85"/><path d="M776.8,342.8 Q765.8,340.1 752.7,337.7" stroke="#0c0430" stroke-width="3.0" fill="none" stroke-linecap="round" opacity="0.58"/><path d="M781.8,346.3 Q795.5,344.7 812.1,341.7" stroke="#44109a" stroke-width="2.7" fill="none" opacity="0.85"/><path d="M780.8,342.8 Q787.0,339.8 795.1,340.2" stroke="#160546" stroke-width="2.4" fill="none" stroke-linecap="round" opacity="0.58"/><ellipse cx="778.4" cy="343.4" rx="3.4" ry="2.0" fill="#1a0650"/><path d="M775.8,354.3 Q760.9,351.3 742.9,349.6" stroke="#44109a" stroke-width="2.6" fill="none" opacity="0.85"/><path d="M776.8,350.9 Q773.4,348.5 768.0,348.3" stroke="#1c0658" stroke-width="2.1" fill="none" stroke-linecap="round" opacity="0.70"/><path d="M781.8,353.9 Q795.5,352.0 812.1,349.1" stroke="#52189e" stroke-width="2.2" fill="none" opacity="0.85"/><path d="M780.8,350.7 Q786.0,349.8 793.2,348.4" stroke="#0c0430" stroke-width="3.2" fill="none" stroke-linecap="round" opacity="0.52"/><ellipse cx="779.7" cy="350.1" rx="3.6" ry="1.8" fill="#1a0650"/><path d="M775.8,360.8 Q760.9,356.9 742.9,353.6" stroke="#44109a" stroke-width="2.5" fill="none" opacity="0.85"/><path d="M776.8,356.5 Q771.5,354.9 764.2,354.8" stroke="#160546" stroke-width="2.1" fill="none" stroke-linecap="round" opacity="0.48"/><path d="M781.8,360.9 Q795.5,359.5 812.1,353.7" stroke="#44109a" stroke-width="3.2" fill="none" opacity="0.85"/><path d="M780.8,357.8 Q789.5,354.7 800.2,354.6" stroke="#100438" stroke-width="2.5" fill="none" stroke-linecap="round" opacity="0.90"/><ellipse cx="778.9" cy="357.4" rx="3.9" ry="2.0" fill="#1a0650"/><path d="M775.8,367.2 Q760.9,364.2 742.9,360.4" stroke="#52189e" stroke-width="3.1" fill="none" opacity="0.85"/><path d="M776.8,364.7 Q770.8,361.6 762.8,361.0" stroke="#1c0658" stroke-width="2.4" fill="none" stroke-linecap="round" opacity="0.81"/><path d="M781.8,367.5 Q795.5,364.4 812.1,360.3" stroke="#48129a" stroke-width="2.9" fill="none" opacity="0.85"/><path d="M780.8,364.2 Q787.6,361.4 796.5,361.6" stroke="#160546" stroke-width="2.0" fill="none" stroke-linecap="round" opacity="0.63"/><ellipse cx="777.9" cy="364.5" rx="2.7" ry="2.2" fill="#1a0650"/><path d="M775.8,374.3 Q760.9,370.9 742.9,367.6" stroke="#52189e" stroke-width="2.4" fill="none" opacity="0.85"/><path d="M776.8,371.5 Q767.3,370.7 755.7,368.6" stroke="#0c0430" stroke-width="1.7" fill="none" stroke-linecap="round" opacity="0.63"/><path d="M781.8,374.6 Q795.5,371.7 812.1,368.8" stroke="#52189e" stroke-width="1.6" fill="none" opacity="0.85"/><path d="M780.8,371.0 Q789.1,369.3 799.4,367.1" stroke="#0c0430" stroke-width="2.6" fill="none" stroke-linecap="round" opacity="0.63"/><ellipse cx="778.4" cy="372.3" rx="2.6" ry="1.7" fill="#1a0650"/><path d="M775.8,383.3 Q760.9,382.0 742.9,374.4" stroke="#48129a" stroke-width="2.7" fill="none" opacity="0.85"/><path d="M776.8,378.5 Q772.6,375.6 766.4,375.6" stroke="#0c0430" stroke-width="1.7" fill="none" stroke-linecap="round" opacity="0.57"/><path d="M781.8,383.5 Q795.5,381.2 812.1,375.2" stroke="#48129a" stroke-width="2.2" fill="none" opacity="0.85"/><path d="M780.8,379.5 Q792.9,378.7 807.0,376.1" stroke="#100438" stroke-width="1.9" fill="none" stroke-linecap="round" opacity="0.72"/><ellipse cx="779.4" cy="379.4" rx="3.0" ry="2.4" fill="#1a0650"/><path d="M775.8,388.7 Q760.9,387.5 742.9,383.6" stroke="#48129a" stroke-width="1.5" fill="none" opacity="0.85"/><path d="M776.8,386.1 Q763.3,385.4 747.8,379.0" stroke="#0c0430" stroke-width="2.5" fill="none" stroke-linecap="round" opacity="0.76"/><path d="M781.8,390.2 Q795.5,388.5 812.1,381.9" stroke="#44109a" stroke-width="1.6" fill="none" opacity="0.85"/><path d="M780.8,385.2 Q794.6,383.2 810.4,380.7" stroke="#1c0658" stroke-width="3.3" fill="none" stroke-linecap="round" opacity="0.68"/><ellipse cx="777.8" cy="385.5" rx="2.9" ry="1.9" fill="#1a0650"/><path d="M775.8,396.7 Q760.9,393.9 742.9,387.4" stroke="#52189e" stroke-width="2.8" fill="none" opacity="0.85"/><path d="M776.8,393.6 Q771.6,391.7 764.4,390.0" stroke="#0c0430" stroke-width="2.6" fill="none" stroke-linecap="round" opacity="0.83"/><path d="M781.8,397.6 Q795.5,393.8 812.1,389.4" stroke="#48129a" stroke-width="2.3" fill="none" opacity="0.85"/><path d="M780.8,393.7 Q784.9,391.9 791.0,391.8" stroke="#160546" stroke-width="3.5" fill="none" stroke-linecap="round" opacity="0.70"/><ellipse cx="778.8" cy="394.1" rx="2.9" ry="2.2" fill="#1a0650"/><path d="M775.8,404.2 Q760.9,400.3 742.9,395.6" stroke="#44109a" stroke-width="1.7" fill="none" opacity="0.85"/><path d="M776.8,401.5 Q765.8,400.1 752.9,397.2" stroke="#160546" stroke-width="3.3" fill="none" stroke-linecap="round" opacity="0.56"/><path d="M781.8,403.4 Q795.5,400.3 812.1,396.9" stroke="#48129a" stroke-width="1.5" fill="none" opacity="0.85"/><path d="M780.8,400.8 Q790.9,399.1 802.9,396.3" stroke="#0c0430" stroke-width="3.8" fill="none" stroke-linecap="round" opacity="0.57"/><ellipse cx="778.8" cy="400.3" rx="3.1" ry="1.7" fill="#1a0650"/><ellipse cx="803.3" cy="375.0" rx="7.6" ry="3.0" fill="#0e0434" transform="rotate(-7 803.3 375.0)"/><ellipse cx="766.2" cy="350.0" rx="4.5" ry="2.8" fill="#0a0424" transform="rotate(15 766.2 350.0)"/><ellipse cx="755.2" cy="384.7" rx="5.9" ry="3.3" fill="#08031e" transform="rotate(19 755.2 384.7)"/><ellipse cx="790.4" cy="383.9" rx="6.6" ry="2.3" fill="#08031e" transform="rotate(-16 790.4 383.9)"/><ellipse cx="756.8" cy="359.8" rx="4.4" ry="2.7" fill="#08031e" transform="rotate(10 756.8 359.8)"/><ellipse cx="751.7" cy="363.4" rx="6.1" ry="2.8" fill="#0e0434" transform="rotate(6 751.7 363.4)"/><ellipse cx="792.9" cy="348.4" rx="5.6" ry="2.3" fill="#0e0434" transform="rotate(-9 792.9 348.4)"/><ellipse cx="789.4" cy="372.4" rx="8.4" ry="3.1" fill="#0e0434" transform="rotate(-7 789.4 372.4)"/><ellipse cx="756.0" cy="358.2" rx="9" ry="6" fill="#08031e" opacity="1" transform="rotate(-10 756.0 358.2)"/><ellipse cx="757.9" cy="373.8" rx="10" ry="5" fill="#08031e" opacity="1" transform="rotate(-8 757.9 373.8)"/><ellipse cx="797.1" cy="356.0" rx="9" ry="8" fill="#08031e" opacity="1" transform="rotate(12 797.1 356.0)"/><ellipse cx="799.0" cy="376.0" rx="9" ry="6" fill="#0a0424" opacity="1" transform="rotate(10 799.0 376.0)"/><ellipse cx="764.5" cy="345.4" rx="10" ry="2.6" fill="#0a0424" opacity="1" transform="rotate(-8 764.5 345.4)"/><ellipse cx="771.0" cy="388.3" rx="12" ry="3" fill="#0c0430" opacity="1" transform="rotate(0 771.0 388.3)"/><ellipse cx="746.9" cy="341.1" rx="4.5" ry="5" fill="#f89a2a" opacity="1" transform="rotate(0 746.9 341.1)"/><ellipse cx="807.1" cy="341.1" rx="7" ry="2" fill="#f07a3a" opacity="1" transform="rotate(25 807.1 341.1)"/><ellipse cx="807.1" cy="348.1" rx="6" ry="1.6" fill="#e8606a" opacity="1" transform="rotate(25 807.1 348.1)"/><ellipse cx="807.6" cy="355.1" rx="5" ry="1.4" fill="#c04a8a" opacity="1" transform="rotate(25 807.6 355.1)"/><ellipse cx="808.6" cy="378.3" rx="3" ry="2.2" fill="#e0607a" opacity="1" transform="rotate(0 808.6 378.3)"/><ellipse cx="746.9" cy="389.4" rx="4" ry="1.6" fill="#9a2c9c" opacity="1" transform="rotate(-20 746.9 389.4)"/><ellipse cx="804.9" cy="366.0" rx="4" ry="1.4" fill="#8a229e" opacity="1" transform="rotate(20 804.9 366.0)"/></g></g>
<text x="609.50" y="290.80" font-size="17.5" text-anchor="start" fill="#fff" font-family="Liberation Serif, serif" font-weight="bold" textLength="41.3" lengthAdjust="spacingAndGlyphs">60 °C</text>
<text x="609.20" y="356.30" font-size="17.5" text-anchor="start" fill="#fff" font-family="Liberation Serif, serif" font-weight="bold" textLength="49.4" lengthAdjust="spacingAndGlyphs">120 °C</text>
<rect x="826.9" y="288.2" width="7.2" height="32" fill="url(#gf_cb)"/>
<rect x="826.9" y="349.5" width="7.2" height="31.5" fill="url(#gf_cb)"/>
<text x="812.20" y="282.20" font-size="14" text-anchor="start" fill="#000" font-family="Liberation Serif, serif" font-weight="bold" textLength="40.6" lengthAdjust="spacingAndGlyphs">120 °C</text>
<text x="814.80" y="332.10" font-size="14" text-anchor="start" fill="#000" font-family="Liberation Serif, serif" font-weight="bold" textLength="31.9" lengthAdjust="spacingAndGlyphs">75 °C</text>
<text x="814.80" y="347.00" font-size="14" text-anchor="start" fill="#000" font-family="Liberation Serif, serif" font-weight="bold" textLength="31.9" lengthAdjust="spacingAndGlyphs">60 °C</text>
<text x="814.80" y="393.90" font-size="14" text-anchor="start" fill="#000" font-family="Liberation Serif, serif" font-weight="bold" textLength="32.4" lengthAdjust="spacingAndGlyphs">30 °C</text>
</g>
<g id="pg">
<text x="5.00" y="461.00" font-size="28" text-anchor="start" fill="#000" font-family="Liberation Serif, serif" font-weight="bold" >(g)</text>
<g clip-path="url(#cpg)" fill="none" stroke="#f6c9ad" stroke-width="2.6" stroke-linejoin="round">
<path d="M107.6,440.6 L108.8,460.0 L110.0,481.8"/>
<path d="M68.8,468.5 L102.7,489.1 L108.8,483.0"/>
<path d="M102.7,489.1 L90.6,519.4"/>
<path d="M67.6,468.5 L68.8,506.1 L49.4,518.2"/>
<path d="M68.8,506.1 L90.6,519.4 L107.6,530.3 L130.6,530.3"/>
<path d="M70.0,507.3 L74.9,542.5 L55.5,552.2"/>
<path d="M74.9,542.5 L85.8,563.1 L82.1,580.0"/>
<path d="M107.6,530.3 L110.0,565.5 L113.7,575.2"/>
<path d="M110.0,565.5 L130.6,571.6 L150.0,575.2"/>
<path d="M136.7,439.4 L148.8,460.0 L151.2,484.3 L136.7,495.2"/>
<path d="M148.8,460.0 L180.3,490.3 L194.9,463.6"/>
<path d="M180.3,490.3 L184.0,517.0 L219.1,521.8"/>
<path d="M136.7,495.2 L165.8,507.3 L184.0,517.0"/>
<path d="M136.7,497.6 L144.0,524.3 L153.7,541.2 L185.2,538.8 L184.0,517.0"/>
<path d="M153.7,541.2 L150.0,575.2"/>
<path d="M185.2,538.8 L185.2,558.2 L205.8,565.5"/>
<path d="M185.2,558.2 L173.1,577.6"/>
<path d="M110.0,481.8 L130.6,492.7"/>
<path d="M130.6,530.3 L144.0,524.3"/>
<path d="M146.9,572.3 L144.0,604.3"/>
<path d="M144.0,576.2 L170.6,581.0 L176.0,586.3"/>
</g>
<circle cx="134.8" cy="523.6" r="87.3" fill="none" stroke="#f6c9ad" stroke-width="3.7"/>
<rect x="43.6" y="605.2" width="181" height="30.8" fill="#ffc000"/>
<text x="134.5" y="631.4" font-size="26" text-anchor="middle" fill="#fff" font-family="Liberation Sans, sans-serif" stroke="#ffc000" stroke-width="0.55" textLength="78.6" lengthAdjust="spacingAndGlyphs">Heater</text>
<path d="M113.7,477.5 C114.2,459.4 133.9,459.2 136.1,474.3" fill="none" stroke="#548235" stroke-width="2.3" stroke-linecap="round"/><polygon points="132.5,473.1 139.9,472.5 136.7,479.3" fill="#548235"/>
<path d="M76.1,499.0 C76.6,481.4 96.3,481.2 98.5,495.8" fill="none" stroke="#548235" stroke-width="2.3" stroke-linecap="round"/><polygon points="94.9,494.6 102.3,494.0 99.1,500.8" fill="#548235"/>
<path d="M151.2,501.5 C151.7,483.8 171.5,483.5 173.7,498.3" fill="none" stroke="#548235" stroke-width="2.3" stroke-linecap="round"/><polygon points="170.1,497.1 177.5,496.5 174.3,503.3" fill="#548235"/>
<path d="M188.8,500.2 C189.2,481.1 208.2,480.8 210.3,497.0" fill="none" stroke="#548235" stroke-width="2.3" stroke-linecap="round"/><polygon points="206.7,495.8 214.1,495.2 210.9,502.0" fill="#548235"/>
<path d="M105.2,518.4 C105.7,500.8 125.4,500.6 127.6,515.2" fill="none" stroke="#548235" stroke-width="2.3" stroke-linecap="round"/><polygon points="124.0,514.0 131.4,513.4 128.2,520.2" fill="#548235"/>
<path d="M154.9,534.2 C155.4,516.5 175.1,516.2 177.3,531.0" fill="none" stroke="#548235" stroke-width="2.3" stroke-linecap="round"/><polygon points="173.7,529.8 181.1,529.2 177.9,536.0" fill="#548235"/>
<path d="M76.1,540.0 C76.6,521.1 97.4,520.9 99.7,536.8" fill="none" stroke="#548235" stroke-width="2.3" stroke-linecap="round"/><polygon points="96.1,535.6 103.5,535.0 100.3,541.8" fill="#548235"/>
<path d="M118.8,563.6 C119.3,544.0 140.4,543.7 142.8,560.4" fill="none" stroke="#548235" stroke-width="2.3" stroke-linecap="round"/><polygon points="139.2,559.2 146.6,558.6 143.4,565.4" fill="#548235"/>
<path d="M161.5,566.8 C161.9,546.9 177.4,546.6 179.0,563.6" fill="none" stroke="#548235" stroke-width="2.3" stroke-linecap="round"/><polygon points="175.4,562.4 182.8,561.8 179.6,568.6" fill="#548235"/>
<line x1="132.0" y1="605.5" x2="132.0" y2="583.6" stroke="#c00000" stroke-width="3.9"/><polygon points="132.0,573.8 138.0,585.3 126.0,585.3" fill="#c00000"/>
<line x1="132.0" y1="569.0" x2="132.0" y2="544.8" stroke="#c00000" stroke-width="3.9"/><polygon points="132.0,535.0 138.0,546.5 126.0,546.5" fill="#c00000"/>
<line x1="132.0" y1="531.5" x2="132.0" y2="502.3" stroke="#c00000" stroke-width="3.9"/><polygon points="132.0,492.5 138.0,504.0 126.0,504.0" fill="#c00000"/>
<line x1="132.0" y1="502.0" x2="132.0" y2="435.2" stroke="#c00000" stroke-width="3.9"/><polygon points="132.0,425.4 138.0,436.9 126.0,436.9" fill="#c00000"/>
<line x1="112.6" y1="477.5" x2="114.4" y2="450.6" stroke="#ff0000" stroke-width="3.7" stroke-dasharray="8 3.2"/><polygon points="114.9,442.5 119.5,452.3 109.1,451.6" fill="#ff0000"/>
<line x1="131.0" y1="492.5" x2="115.6" y2="486.8" stroke="#ff0000" stroke-width="3.7" stroke-dasharray="8 3.2"/><polygon points="108.0,484.0 118.7,482.4 115.1,492.2" fill="#ff0000"/>
<line x1="179.1" y1="478.2" x2="160.2" y2="461.2" stroke="#ff0000" stroke-width="3.7" stroke-dasharray="8 3.2"/><polygon points="154.2,455.8 164.7,458.3 157.8,466.0" fill="#ff0000"/>
<line x1="94.3" y1="522.5" x2="104.4" y2="501.9" stroke="#ff0000" stroke-width="3.7" stroke-dasharray="8 3.2"/><polygon points="107.9,494.6 108.4,505.4 99.1,500.9" fill="#ff0000"/>
<line x1="92.3" y1="513.8" x2="79.3" y2="503.4" stroke="#ff0000" stroke-width="3.7" stroke-dasharray="8 3.2"/><polygon points="73.0,498.4 83.7,500.3 77.2,508.4" fill="#ff0000"/>
<line x1="157.6" y1="537.0" x2="144.8" y2="510.5" stroke="#ff0000" stroke-width="3.7" stroke-dasharray="8 3.2"/><polygon points="141.3,503.2 150.1,509.5 140.7,514.0" fill="#ff0000"/>
<line x1="187.6" y1="549.7" x2="187.5" y2="526.1" stroke="#ff0000" stroke-width="3.7" stroke-dasharray="8 3.2"/><polygon points="187.4,518.0 192.7,527.5 182.3,527.5" fill="#ff0000"/>
<line x1="187.3" y1="517.0" x2="187.1" y2="502.7" stroke="#ff0000" stroke-width="3.7" stroke-dasharray="8 3.2"/><polygon points="187.0,494.6 192.3,504.0 181.9,504.2" fill="#ff0000"/>
<line x1="114.9" y1="564.3" x2="114.9" y2="544.1" stroke="#ff0000" stroke-width="3.7" stroke-dasharray="8 3.2"/><polygon points="114.9,536.0 120.1,545.5 109.7,545.5" fill="#ff0000"/>
<line x1="123.2" y1="603.5" x2="108.9" y2="577.5" stroke="#ff0000" stroke-width="3.7" stroke-dasharray="8 3.2"/><polygon points="105.0,570.4 114.1,576.2 105.0,581.2" fill="#ff0000"/>
<line x1="104.0" y1="569.2" x2="91.7" y2="559.3" stroke="#ff0000" stroke-width="3.7" stroke-dasharray="8 3.2"/><polygon points="85.4,554.2 96.1,556.1 89.5,564.2" fill="#ff0000"/>
<line x1="149.6" y1="598.2" x2="153.6" y2="583.6" stroke="#ff0000" stroke-width="3.7" stroke-dasharray="8 3.2"/><polygon points="155.8,575.8 158.3,586.3 148.3,583.6" fill="#ff0000"/>
<line x1="154.4" y1="570.4" x2="157.8" y2="554.9" stroke="#ff0000" stroke-width="3.7" stroke-dasharray="8 3.2"/><polygon points="159.5,547.0 162.6,557.4 152.4,555.2" fill="#ff0000"/>
<line x1="173.6" y1="585.0" x2="184.7" y2="571.4" stroke="#ff0000" stroke-width="3.7" stroke-dasharray="8 3.2"/><polygon points="189.8,565.2 187.8,575.8 179.8,569.3" fill="#ff0000"/>
<path d="M236.1,532.8 C236.6,513.0 257.8,512.7 260.2,529.6" fill="none" stroke="#548235" stroke-width="2.3" stroke-linecap="round"/><polygon points="256.6,528.4 264.0,527.8 260.8,534.6" fill="#548235"/>
<line x1="232.2" y1="544.7" x2="261.8" y2="562.1" stroke="#ff0000" stroke-width="3.9" stroke-dasharray="10.5 3.6"/><polygon points="269.0,566.3 257.9,565.9 263.2,556.8" fill="#ff0000"/>
<line x1="229.8" y1="567.8" x2="257.2" y2="583.7" stroke="#c00000" stroke-width="4.2"/><polygon points="265.7,588.6 252.7,588.1 258.8,577.6" fill="#c00000"/>
<text x="270.0" y="539.4" font-size="25" fill="#000" font-family="Liberation Serif, serif" font-weight="bold">λ<tspan font-size="16.6" dy="6.4">conv.</tspan></text>
<text x="270.0" y="567.6" font-size="25" fill="#000" font-family="Liberation Serif, serif" font-weight="bold">λ<tspan font-size="16.6" dy="6.4">cond.</tspan></text>
<text x="270.0" y="600.0" font-size="25" fill="#000" font-family="Liberation Serif, serif" font-weight="bold">λ<tspan font-size="16.6" dy="6.4">rad.</tspan></text>
</g>
<g id="ph">
<text x="296.50" y="465.00" font-size="28" text-anchor="start" fill="#000" font-family="Liberation Serif, serif" font-weight="bold" >(h)</text>
<rect x="336" y="436.2" width="217.9" height="183.4" rx="22.5" ry="22.5" fill="url(#gh_bg)"/>
<use href="#cam" transform="translate(347.6,449.6) scale(1.025)"/>
<path d="M363.29999999999995,553.0 A62.6,10.6 0 0 1 488.5,553.0 L488.5,609.0 A62.6,13.4 0 0 1 363.29999999999995,609.0 Z" fill="url(#gh_gl)" opacity="0.93"/>
<path d="M363.69999999999993,577.0 A62.2,9.6 0 0 1 488.1,577.0 L488.1,609.0 A62.2,13.4 0 0 1 363.69999999999993,609.0 Z" fill="url(#gh_lq)" opacity="0.96"/>
<path d="M363.69999999999993,577.0 A62.2,9.6 0 0 1 488.1,577.0 L488.1,609.0 A62.2,13.4 0 0 1 363.69999999999993,609.0 Z" fill="url(#gh_lqv)"/>
<path d="M363.69999999999993,609.0 A62.2,7.4 0 0 1 488.1,609.0 A62.2,13.4 0 0 1 363.69999999999993,609.0 Z" fill="#c3cde2" opacity="0.95"/>
<path d="M363.29999999999995,553.0 A62.6,10.6 0 0 0 488.5,553.0" fill="none" stroke="#fff" stroke-width="1.2" opacity="0.95"/>
<path d="M363.29999999999995,553.0 A62.6,10.6 0 0 1 488.5,553.0" fill="none" stroke="#e6e6ea" stroke-width="0.7" opacity="0.9"/>
<path d="M394.2,556.5 L394.2,608.0 A29.5,7.2 0 0 0 453.2,608.0 L453.2,558 Z" fill="url(#gh_blk)"/>
<ellipse cx="423.7" cy="557.5" rx="29.5" ry="7.5" fill="#e2c9b8"/>
<path d="M394.4,556.5 Q395.5,550.5 404,548.8 L424,546.6 Q438,546.4 443.5,550.5 Q446.5,554 444,558.5 Q440,563.5 430,566 L418,567.6 Q406,567 399.5,563 Q394.5,560 394.4,556.5 Z" fill="#cdc3b5" stroke="#d9d0c4" stroke-width="0.6"/><g clip-path="url(#clh)"><g transform="rotate(-10 420.5 557.0)"><use href="#lp" transform="translate(391.1,543.2) rotate(25) scale(1.04)"/><use href="#lp" transform="translate(395.5,543.5) rotate(33) scale(1.02)"/><use href="#lp" transform="translate(399.8,543.1) rotate(0) scale(1.22)"/><use href="#lp" transform="translate(403.9,542.9) rotate(35) scale(1.14)"/><use href="#lp" transform="translate(407.9,542.8) rotate(-0) scale(0.98)"/><use href="#lp" transform="translate(412.7,543.3) rotate(-6) scale(1.19)"/><use href="#lp" transform="translate(417.4,543.1) rotate(15) scale(1.00)"/><use href="#lp" transform="translate(420.5,543.6) rotate(-17) scale(1.02)"/><use href="#lp" transform="translate(426.0,543.3) rotate(-30) scale(1.05)"/><use href="#lp" transform="translate(429.3,542.7) rotate(-39) scale(1.11)"/><use href="#lp" transform="translate(433.7,542.9) rotate(-25) scale(1.00)"/><use href="#lp" transform="translate(437.6,543.4) rotate(20) scale(1.12)"/><use href="#lp" transform="translate(442.1,542.6) rotate(-30) scale(1.05)"/><use href="#lp" transform="translate(446.3,542.7) rotate(-24) scale(1.02)"/><use href="#lp" transform="translate(393.4,546.4) rotate(-2) scale(1.06)"/><use href="#lp" transform="translate(397.5,546.8) rotate(-15) scale(0.99)"/><use href="#lp" transform="translate(401.7,546.4) rotate(22) scale(1.00)"/><use href="#lp" transform="translate(406.6,545.9) rotate(3) scale(1.09)"/><use href="#lp" transform="translate(410.1,547.0) rotate(16) scale(1.01)"/><use href="#lp" transform="translate(414.6,546.6) rotate(-37) scale(0.99)"/><use href="#lp" transform="translate(419.1,546.8) rotate(-3) scale(1.08)"/><use href="#lp" transform="translate(423.3,546.2) rotate(30) scale(1.22)"/><use href="#lp" transform="translate(427.5,545.9) rotate(-8) scale(1.18)"/><use href="#lp" transform="translate(431.6,546.0) rotate(-25) scale(1.16)"/><use href="#lp" transform="translate(436.3,546.2) rotate(10) scale(1.17)"/><use href="#lp" transform="translate(441.1,546.9) rotate(-5) scale(1.18)"/><use href="#lp" transform="translate(445.3,546.9) rotate(20) scale(1.12)"/><use href="#lp" transform="translate(449.1,546.9) rotate(10) scale(1.16)"/><use href="#lp" transform="translate(390.6,549.5) rotate(-18) scale(1.12)"/><use href="#lp" transform="translate(395.4,549.6) rotate(-25) scale(1.22)"/><use href="#lp" transform="translate(399.0,550.5) rotate(22) scale(1.12)"/><use href="#lp" transform="translate(404.6,550.2) rotate(-39) scale(1.22)"/><use href="#lp" transform="translate(408.1,550.5) rotate(25) scale(1.00)"/><use href="#lp" transform="translate(411.9,549.4) rotate(22) scale(1.18)"/><use href="#lp" transform="translate(416.4,549.5) rotate(-11) scale(1.18)"/><use href="#lp" transform="translate(421.4,550.4) rotate(37) scale(1.17)"/><use href="#lp" transform="translate(425.9,549.4) rotate(-39) scale(1.20)"/><use href="#lp" transform="translate(429.9,549.8) rotate(-30) scale(1.06)"/><use href="#lp" transform="translate(433.8,550.0) rotate(-4) scale(1.02)"/><use href="#lp" transform="translate(437.7,549.6) rotate(-30) scale(0.99)"/><use href="#lp" transform="translate(442.5,549.6) rotate(24) scale(1.11)"/><use href="#lp" transform="translate(446.8,550.2) rotate(-21) scale(0.97)"/><use href="#lp" transform="translate(392.6,553.3) rotate(-11) scale(1.03)"/><use href="#lp" transform="translate(397.2,553.9) rotate(-39) scale(1.09)"/><use href="#lp" transform="translate(401.6,553.2) rotate(18) scale(1.03)"/><use href="#lp" transform="translate(405.4,553.1) rotate(38) scale(1.06)"/><use href="#lp" transform="translate(409.8,554.1) rotate(12) scale(1.22)"/><use href="#lp" transform="translate(414.4,553.9) rotate(-37) scale(1.03)"/><use href="#lp" transform="translate(419.4,553.5) rotate(23) scale(1.07)"/><use href="#lp" transform="translate(423.8,553.0) rotate(10) scale(1.02)"/><use href="#lp" transform="translate(427.1,554.0) rotate(-6) scale(1.18)"/><use href="#lp" transform="translate(431.5,553.8) rotate(33) scale(1.13)"/><use href="#lp" transform="translate(435.8,553.7) rotate(36) scale(1.18)"/><use href="#lp" transform="translate(440.4,553.4) rotate(-32) scale(1.17)"/><use href="#lp" transform="translate(444.3,553.2) rotate(-37) scale(1.01)"/><use href="#lp" transform="translate(448.9,553.5) rotate(-26) scale(1.08)"/><use href="#lp" transform="translate(391.4,556.5) rotate(-29) scale(1.11)"/><use href="#lp" transform="translate(395.9,557.5) rotate(6) scale(0.99)"/><use href="#lp" transform="translate(400.1,557.6) rotate(32) scale(1.11)"/><use href="#lp" transform="translate(403.7,557.1) rotate(23) scale(1.23)"/><use href="#lp" transform="translate(408.2,557.0) rotate(-15) scale(1.11)"/><use href="#lp" transform="translate(412.6,556.7) rotate(-3) scale(1.21)"/><use href="#lp" transform="translate(416.4,556.7) rotate(-16) scale(1.19)"/><use href="#lp" transform="translate(420.8,557.4) rotate(34) scale(1.20)"/><use href="#lp" transform="translate(425.8,556.6) rotate(-4) scale(1.19)"/><use href="#lp" transform="translate(429.3,557.1) rotate(30) scale(1.21)"/><use href="#lp" transform="translate(433.8,556.5) rotate(-38) scale(1.05)"/><use href="#lp" transform="translate(438.4,556.7) rotate(26) scale(1.14)"/><use href="#lp" transform="translate(442.8,557.4) rotate(-14) scale(1.14)"/><use href="#lp" transform="translate(446.7,556.7) rotate(-31) scale(1.18)"/><use href="#lp" transform="translate(393.7,559.9) rotate(17) scale(0.98)"/><use href="#lp" transform="translate(397.3,560.3) rotate(32) scale(1.08)"/><use href="#lp" transform="translate(401.8,560.3) rotate(-20) scale(1.03)"/><use href="#lp" transform="translate(405.4,559.9) rotate(4) scale(1.16)"/><use href="#lp" transform="translate(410.6,560.2) rotate(39) scale(0.99)"/><use href="#lp" transform="translate(414.6,560.3) rotate(-26) scale(1.22)"/><use href="#lp" transform="translate(419.3,560.1) rotate(-26) scale(1.18)"/><use href="#lp" transform="translate(423.1,560.3) rotate(-16) scale(1.05)"/><use href="#lp" transform="translate(427.7,560.3) rotate(7) scale(0.98)"/><use href="#lp" transform="translate(431.9,560.6) rotate(-14) scale(1.20)"/><use href="#lp" transform="translate(436.7,560.7) rotate(-7) scale(1.01)"/><use href="#lp" transform="translate(440.6,560.2) rotate(-27) scale(1.11)"/><use href="#lp" transform="translate(444.3,560.7) rotate(21) scale(0.97)"/><use href="#lp" transform="translate(449.2,560.1) rotate(-13) scale(1.16)"/><use href="#lp" transform="translate(391.7,563.8) rotate(20) scale(1.06)"/><use href="#lp" transform="translate(395.9,563.6) rotate(13) scale(0.99)"/><use href="#lp" transform="translate(399.7,564.3) rotate(33) scale(1.17)"/><use href="#lp" transform="translate(404.0,563.9) rotate(10) scale(1.14)"/><use href="#lp" transform="translate(408.4,564.3) rotate(20) scale(1.22)"/><use href="#lp" transform="translate(412.7,564.5) rotate(19) scale(1.07)"/><use href="#lp" transform="translate(417.2,563.8) rotate(26) scale(1.20)"/><use href="#lp" transform="translate(421.7,564.5) rotate(15) scale(1.10)"/><use href="#lp" transform="translate(425.1,564.2) rotate(31) scale(1.06)"/><use href="#lp" transform="translate(429.3,564.3) rotate(33) scale(1.02)"/><use href="#lp" transform="translate(433.5,563.5) rotate(4) scale(1.19)"/><use href="#lp" transform="translate(437.9,564.3) rotate(-36) scale(1.02)"/><use href="#lp" transform="translate(442.7,564.3) rotate(-0) scale(1.15)"/><use href="#lp" transform="translate(446.7,563.9) rotate(2) scale(0.97)"/><use href="#lp" transform="translate(392.7,567.3) rotate(13) scale(1.02)"/><use href="#lp" transform="translate(397.1,568.1) rotate(12) scale(1.08)"/><use href="#lp" transform="translate(402.1,567.8) rotate(25) scale(1.12)"/><use href="#lp" transform="translate(406.2,567.0) rotate(-6) scale(1.07)"/><use href="#lp" transform="translate(410.0,567.3) rotate(31) scale(1.03)"/><use href="#lp" transform="translate(414.1,567.3) rotate(-26) scale(0.97)"/><use href="#lp" transform="translate(419.5,567.6) rotate(-38) scale(1.11)"/><use href="#lp" transform="translate(422.8,567.5) rotate(36) scale(1.23)"/><use href="#lp" transform="translate(427.4,567.8) rotate(-1) scale(0.99)"/><use href="#lp" transform="translate(431.7,567.9) rotate(22) scale(1.16)"/><use href="#lp" transform="translate(436.8,567.4) rotate(16) scale(1.18)"/><use href="#lp" transform="translate(441.0,567.9) rotate(30) scale(1.06)"/><use href="#lp" transform="translate(444.6,567.6) rotate(-30) scale(1.05)"/><use href="#lp" transform="translate(448.9,567.1) rotate(-25) scale(1.14)"/></g></g>
<path d="M421.8,549 C422.5,530 424,505 431,484 C437,466 449,462.5 461,467 C472,471.5 480,477 489.5,481" fill="none" stroke="#1f3864" stroke-width="2"/>
<path d="M450.4,557.5 C452,540 456,522 461.5,511 C467,500.5 478,498 491,493.8" fill="none" stroke="#1f3864" stroke-width="2"/>
<circle cx="421.8" cy="551.2" r="5.5" fill="#4472c4"/><circle cx="450.3" cy="559.5" r="5.5" fill="#4472c4"/>
<polygon points="485.4,454.0 540.3,454.0 548.0,469.0 492.3,469.0" fill="#7b7b7b" stroke="#e8e8e8" stroke-width="0.5"/><polygon points="485.4,454.0 492.3,469.0 492.3,523.0 484.8,507.5" fill="#858585" stroke="#e8e8e8" stroke-width="0.5"/><rect x="492.3" y="469.0" width="55.7" height="54.0" fill="#a8a8a8" stroke="#f2f2f2" stroke-width="0.6"/><rect x="498.7" y="484.6" width="19.5" height="23.6" fill="#0d0d0d" stroke="#777" stroke-width="0.5"/><text x="508.8" y="506.0" font-size="17" text-anchor="middle" fill="#ff1010" font-family="Liberation Serif, serif" textLength="15.3" lengthAdjust="spacingAndGlyphs">°C</text>
<text x="419.3" y="612.2" font-size="21" fill="#2f5597" font-family="Liberation Serif, serif" font-weight="bold">Liquid N<tspan font-size="14" dy="4.5">2</tspan></text>
</g>
<g id="pi">
<text x="563.30" y="454.20" font-size="28" text-anchor="start" fill="#000" font-family="Liberation Serif, serif" font-weight="bold" >(i)</text>
<rect x="627.5" y="461.8" width="47.4" height="158.5" fill="#92b4d8"/>
<rect x="686.2" y="488.5" width="47.4" height="131.8" fill="#92b4d8"/>
<rect x="745.2" y="513.2" width="47.4" height="107.1" fill="#92b4d8"/>
<rect x="803.9" y="566.3" width="47.4" height="54.0" fill="#92b4d8"/>
<g clip-path="url(#ci0)"><rect x="687.4" y="447.6" width="45.8" height="39.4" fill="url(#gi0)"/><circle cx="711.3" cy="467.8" r="22.3" fill="none" stroke="#ffb02a" stroke-width="0.7" opacity="0.6"/><path d="M687.4,459.4 Q696.6,465.7 706.3,469.8" fill="none" stroke="#e05a7a" stroke-width="0.7" opacity="0.9"/><g filter="url(#b05)"><ellipse cx="710.3" cy="468.8" rx="10.5" ry="9.5" fill="#07041f"/><ellipse cx="718.3" cy="464.8" rx="5" ry="6" fill="#0a0628" opacity="0.8"/><path d="M709.3,471.8 q1,-6 3,-7 q2,1 1,5" stroke="#e0507a" stroke-width="1.1" fill="none"/><circle cx="721.3" cy="472.8" r="0.9" fill="#f07a5a"/><circle cx="714.3" cy="466.8" r="0.8" fill="#c8c8ff"/></g></g>
<g clip-path="url(#ci1)"><rect x="746.1" y="471.8" width="45.4" height="39.2" fill="url(#gi1)"/><circle cx="769.8" cy="491.9" r="22.2" fill="none" stroke="#ffb02a" stroke-width="0.7" opacity="0.6"/><path d="M746.1,483.6 Q755.2,489.8 764.8,493.9" fill="none" stroke="#e05a7a" stroke-width="0.7" opacity="0.9"/><g filter="url(#b05)"><ellipse cx="769.8" cy="494.9" rx="9" ry="9" fill="#07041f" opacity="0.8"/><rect x="763.8" y="485.4" width="11.5" height="12" fill="#f07a2e" transform="rotate(12 769.8 491.9)"/><rect x="766.3" y="487.9" width="6" height="7" fill="#ff9e3a" transform="rotate(12 769.8 491.9)"/><circle cx="770.3" cy="491.9" r="0.8" fill="#7ad0d0"/></g></g>
<g clip-path="url(#ci2)"><rect x="804.9" y="525.3" width="46.3" height="39.9" fill="url(#gi2)"/><circle cx="829.0" cy="545.8" r="22.6" fill="none" stroke="#ffb02a" stroke-width="0.7" opacity="0.6"/><path d="M804.9,537.3 Q814.2,543.7 824.0,547.8" fill="none" stroke="#e05a7a" stroke-width="0.7" opacity="0.9"/><g filter="url(#b05)"><ellipse cx="828.0" cy="549.8" rx="9" ry="8" fill="#07041f" opacity="0.8"/><rect x="822.0" y="538.8" width="13.5" height="13.5" fill="#fba21c" transform="rotate(10 829.0 545.8)"/><rect x="824.5" y="540.8" width="9" height="9.5" fill="#ffd23a" transform="rotate(10 829.0 545.8)"/><circle cx="829.0" cy="545.8" r="0.8" fill="#5a8a6a"/></g></g>
<rect x="621.3" y="430.7" width="236.3" height="189.6" fill="none" stroke="#555" stroke-width="1"/>
<line x1="621.3" x2="624.9" y1="620.3" y2="620.3" stroke="#333" stroke-width="0.9"/>
<text x="614.90" y="624.80" font-size="14.2" text-anchor="end" fill="#000" font-family="Liberation Serif, serif" font-weight="bold" >0</text>
<line x1="621.3" x2="623.3" y1="599.7" y2="599.7" stroke="#333" stroke-width="0.9"/>
<line x1="621.3" x2="624.9" y1="579.2" y2="579.2" stroke="#333" stroke-width="0.9"/>
<text x="614.90" y="583.67" font-size="14.2" text-anchor="end" fill="#000" font-family="Liberation Serif, serif" font-weight="bold" >−50</text>
<line x1="621.3" x2="623.3" y1="558.6" y2="558.6" stroke="#333" stroke-width="0.9"/>
<line x1="621.3" x2="624.9" y1="538.0" y2="538.0" stroke="#333" stroke-width="0.9"/>
<text x="614.90" y="542.55" font-size="14.2" text-anchor="end" fill="#000" font-family="Liberation Serif, serif" font-weight="bold" >−100</text>
<line x1="621.3" x2="623.3" y1="517.5" y2="517.5" stroke="#333" stroke-width="0.9"/>
<line x1="621.3" x2="624.9" y1="496.9" y2="496.9" stroke="#333" stroke-width="0.9"/>
<text x="614.90" y="501.42" font-size="14.2" text-anchor="end" fill="#000" font-family="Liberation Serif, serif" font-weight="bold" >−150</text>
<line x1="621.3" x2="623.3" y1="476.4" y2="476.4" stroke="#333" stroke-width="0.9"/>
<line x1="621.3" x2="624.9" y1="455.8" y2="455.8" stroke="#333" stroke-width="0.9"/>
<text x="614.90" y="460.30" font-size="14.2" text-anchor="end" fill="#000" font-family="Liberation Serif, serif" font-weight="bold" >−200</text>
<line x1="621.3" x2="623.3" y1="435.2" y2="435.2" stroke="#333" stroke-width="0.9"/>
<line x1="651.2" x2="651.2" y1="620.3" y2="623.6999999999999" stroke="#333" stroke-width="0.9"/>
<line x1="680.6" x2="680.6" y1="620.3" y2="622.3" stroke="#333" stroke-width="0.8"/>
<line x1="710.0" x2="710.0" y1="620.3" y2="623.6999999999999" stroke="#333" stroke-width="0.9"/>
<line x1="739.4" x2="739.4" y1="620.3" y2="622.3" stroke="#333" stroke-width="0.8"/>
<line x1="768.8" x2="768.8" y1="620.3" y2="623.6999999999999" stroke="#333" stroke-width="0.9"/>
<line x1="798.1999999999999" x2="798.1999999999999" y1="620.3" y2="622.3" stroke="#333" stroke-width="0.8"/>
<line x1="827.7" x2="827.7" y1="620.3" y2="623.6999999999999" stroke="#333" stroke-width="0.9"/>
<text x="650.80" y="637.60" font-size="9.9" text-anchor="middle" fill="#000" font-family="Liberation Serif, serif" font-weight="bold" >Copper block</text>
<text x="713.50" y="639.20" font-size="9.9" text-anchor="middle" fill="#000" font-family="Liberation Serif, serif" font-weight="bold" >Cotton gauze</text>
<text x="715.30" y="650.20" font-size="9.9" text-anchor="middle" fill="#000" font-family="Liberation Serif, serif" font-weight="bold" >fabric</text>
<text x="767.20" y="640.00" font-size="9.9" text-anchor="middle" fill="#000" font-family="Liberation Serif, serif" font-weight="bold" >Cotton</text>
<text x="768.60" y="651.60" font-size="9.9" text-anchor="middle" fill="#000" font-family="Liberation Serif, serif" font-weight="bold" >textile</text>
<text x="834.30" y="637.80" font-size="9.9" text-anchor="middle" fill="#000" font-family="Liberation Serif, serif" font-weight="bold" >APB textile</text>
<text transform="translate(582.40,525.50) rotate(-90)" font-size="15" text-anchor="middle" fill="#000" font-family="Liberation Serif, serif" font-weight="bold" textLength="123.5" lengthAdjust="spacingAndGlyphs">Temperature (°C)</text>
</g>
</svg>
</body></html>
